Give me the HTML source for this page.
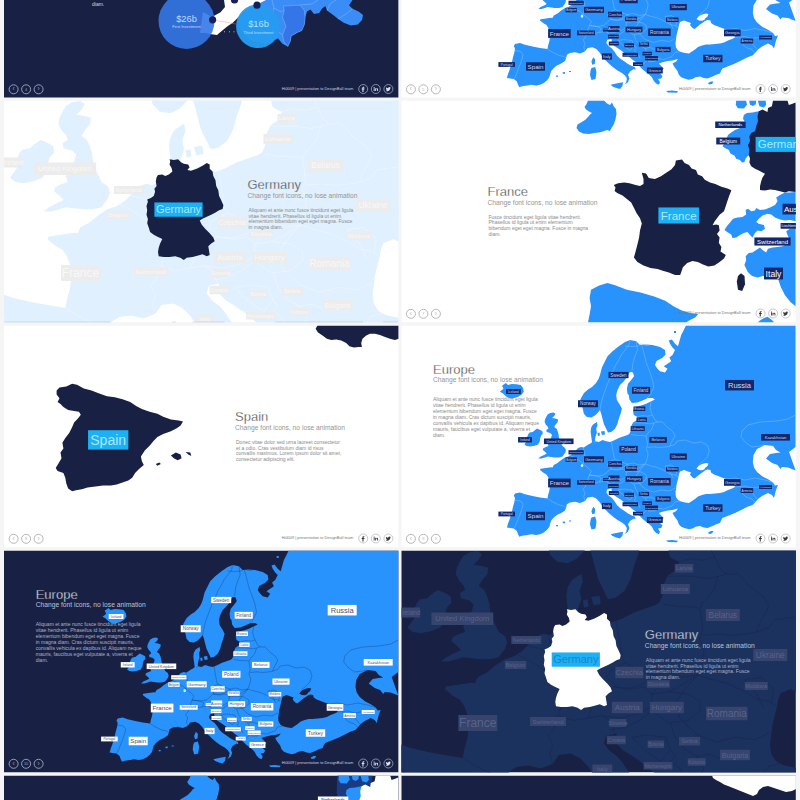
<!DOCTYPE html>
<html lang="en"><head><meta charset="utf-8"><title>Europe maps presentation</title>
<style>
html,body{margin:0;padding:0;background:#fff;}
body{width:800px;height:800px;overflow:hidden;position:relative;}
svg{display:block;position:absolute;left:0;top:0;}
text{font-family:'Liberation Sans', Arial, sans-serif;}
.t{font-size:13px;font-weight:300;}
.s{font-size:6.7px;}
.p{font-size:5.02px;}
.f{font-size:3.3px;}
</style></head><body>
<svg width="800" height="800" viewBox="0 0 800 800">
<defs>
<clipPath id="c00"><rect x="4.0" y="-124.0" width="394.6" height="221.6"/></clipPath>
<clipPath id="c01"><rect x="401.3" y="-124.0" width="394.6" height="221.6"/></clipPath>
<clipPath id="c10"><rect x="4.0" y="100.5" width="394.6" height="222.0"/></clipPath>
<clipPath id="c11"><rect x="401.3" y="100.5" width="394.6" height="222.0"/></clipPath>
<clipPath id="c20"><rect x="4.0" y="325.5" width="394.6" height="222.0"/></clipPath>
<clipPath id="c21"><rect x="401.3" y="325.5" width="394.6" height="222.0"/></clipPath>
<clipPath id="c30"><rect x="4.0" y="550.5" width="394.6" height="222.0"/></clipPath>
<clipPath id="c31"><rect x="401.3" y="550.5" width="394.6" height="222.0"/></clipPath>
<clipPath id="c40"><rect x="4.0" y="775.5" width="394.6" height="222.0"/></clipPath>
<clipPath id="c41"><rect x="401.3" y="775.5" width="394.6" height="222.0"/></clipPath>
<path id="eu" fill-rule="evenodd" d="M586.9,416.9 L583.8,413.8 L582.5,407.5 L580.5,403.0 L580.5,399.0 L584.0,393.0 L588.0,389.5 L592.0,387.0 L596.0,383.0 L598.5,379.0 L600.0,375.0 L601.9,367.5 L605.0,361.2 L607.5,356.2 L612.5,351.2 L618.8,346.2 L625.0,341.9 L630.0,340.0 L636.2,341.2 L640.0,345.0 L645.0,344.4 L652.5,345.0 L660.0,346.9 L665.0,350.0 L665.6,354.4 L662.5,357.8 L656.5,361.0 L655.0,365.0 L657.5,368.8 L660.0,371.2 L665.0,372.5 L667.5,368.8 L663.8,366.2 L667.5,363.8 L671.2,361.2 L669.4,357.5 L672.5,355.0 L675.0,350.0 L672.5,347.5 L670.0,343.8 L668.8,340.6 L671.9,339.4 L675.0,343.8 L678.0,346.2 L679.4,341.2 L681.2,335.0 L683.8,330.0 L685.6,326.2 L686.2,325.5 L795.6,325.5 L795.6,447.0 L789.0,452.0 L795.6,470.5 L788.0,467.5 L782.0,467.0 L780.5,469.0 L777.5,465.0 L772.0,463.0 L766.0,458.5 L770.0,454.0 L776.0,453.0 L780.5,452.5 L776.0,450.0 L773.0,446.0 L764.8,445.0 L757.0,449.0 L753.5,455.0 L752.8,462.0 L754.0,467.5 L757.0,472.0 L762.5,476.5 L768.5,479.5 L773.0,482.5 L775.0,485.5 L778.0,485.0 L776.0,490.0 L774.0,498.0 L772.0,495.0 L768.0,493.0 L762.0,496.0 L758.0,499.0 L755.0,502.5 L752.5,504.9 L747.5,506.8 L741.2,509.9 L735.0,513.0 L727.5,516.0 L722.5,518.0 L721.2,519.9 L720.0,523.0 L716.2,524.2 L712.5,526.0 L707.5,528.0 L703.8,527.4 L700.0,526.0 L695.6,526.8 L692.5,528.6 L688.8,529.2 L684.4,528.0 L681.2,526.8 L678.8,524.2 L677.5,520.5 L675.6,518.0 L673.8,515.5 L672.5,513.0 L676.2,511.0 L678.0,508.5 L675.0,509.2 L672.5,509.9 L667.5,510.5 L662.5,511.8 L658.8,513.0 L661.2,515.5 L663.8,518.0 L661.2,520.5 L660.0,523.0 L662.5,525.5 L661.2,528.0 L658.0,528.6 L660.0,531.8 L658.8,534.2 L656.2,533.0 L653.8,530.5 L651.9,526.8 L649.4,524.2 L646.2,521.8 L643.8,519.9 L641.2,517.4 L638.8,514.9 L636.2,511.8 L632.5,509.2 L628.8,506.0 L625.0,503.0 L621.2,499.9 L617.5,497.4 L614.4,495.5 L611.9,493.0 L611.5,488.5 L607.3,489.3 L606.3,492.5 L608.5,495.5 L611.9,498.0 L614.4,501.0 L616.9,504.9 L620.0,508.0 L623.8,510.5 L628.0,513.6 L631.9,515.5 L635.0,516.8 L635.6,519.2 L633.8,518.6 L630.0,521.0 L628.0,524.2 L629.4,528.0 L628.0,531.8 L624.4,534.2 L626.2,531.8 L626.9,528.0 L625.0,524.9 L621.9,522.4 L617.5,519.9 L613.0,516.8 L608.8,513.0 L605.0,509.2 L601.9,505.5 L599.4,501.8 L596.2,498.6 L592.5,496.8 L587.5,497.4 L585.0,501.0 L580.0,503.0 L575.0,501.8 L570.0,502.4 L566.9,504.2 L566.2,507.4 L565.0,510.5 L561.2,513.0 L556.9,514.9 L553.8,517.4 L551.2,520.5 L550.0,524.2 L549.4,526.8 L546.9,529.9 L543.8,532.4 L540.0,534.2 L536.2,534.9 L531.2,534.2 L527.5,534.9 L523.8,535.5 L521.2,536.0 L519.4,536.8 L518.0,534.2 L516.9,531.0 L513.8,528.6 L510.0,528.0 L506.9,527.4 L508.0,523.6 L509.4,519.9 L510.6,516.0 L511.9,511.8 L513.0,506.8 L514.4,501.8 L515.0,498.0 L513.8,495.5 L515.0,493.6 L520.0,492.4 L525.0,494.2 L532.5,496.0 L540.0,497.4 L547.5,498.6 L548.0,495.5 L549.4,490.5 L550.0,485.5 L549.4,480.5 L548.0,476.8 L546.2,474.2 L543.8,473.0 L540.0,470.0 L540.5,468.8 L546.0,468.0 L551.0,467.3 L552.5,467.5 L553.8,465.0 L557.5,463.0 L561.2,460.0 L565.0,457.5 L568.8,456.2 L572.5,453.8 L576.2,450.0 L578.0,448.0 L581.2,446.9 L583.8,447.5 L587.5,445.0 L591.2,443.0 L592.0,442.0 L591.2,436.2 L590.6,431.2 L591.2,427.5 L593.0,424.4 L596.9,421.9 L597.5,425.0 L596.2,428.8 L596.9,432.5 L595.6,436.2 L595.0,440.0 L595.6,441.2 L598.8,441.9 L602.5,440.0 L606.2,441.2 L610.0,441.9 L613.8,440.6 L618.8,438.0 L623.8,436.2 L627.5,435.0 L629.4,433.8 L630.6,431.2 L631.2,426.2 L633.0,422.5 L636.9,420.0 L637.5,416.9 L633.8,415.0 L633.0,411.2 L634.4,406.9 L641.2,405.6 L646.2,403.8 L651.2,401.2 L655.0,399.4 L652.5,398.0 L648.0,398.0 L642.5,400.6 L637.5,402.5 L631.9,403.0 L629.4,399.4 L628.8,395.0 L627.5,393.8 L626.9,388.8 L628.0,383.8 L631.2,380.0 L634.0,376.2 L633.0,372.5 L631.2,372.0 L629.4,372.5 L626.9,377.5 L623.8,381.2 L620.0,385.0 L617.5,390.0 L616.2,395.0 L616.9,400.0 L620.0,405.0 L621.9,408.8 L620.6,413.8 L618.8,418.8 L617.5,423.8 L615.0,428.8 L611.2,431.9 L608.0,432.5 L606.2,428.8 L603.8,423.8 L602.5,418.8 L601.2,413.8 L600.0,410.0 L598.0,412.5 L595.0,415.6 L591.2,417.5ZM680.0,471.5 L684.0,470.0 L688.0,471.5 L691.0,472.5 L690.0,474.5 L692.5,477.5 L694.5,478.5 L697.0,476.5 L700.0,474.0 L703.0,472.0 L705.0,470.5 L707.5,469.5 L710.5,470.0 L711.0,472.5 L714.0,474.5 L718.0,476.0 L722.0,477.5 L726.0,479.0 L730.0,480.5 L734.0,484.5 L735.0,487.0 L732.0,488.5 L728.0,490.0 L724.0,492.0 L720.0,493.0 L715.0,493.5 L710.0,494.0 L706.0,494.0 L702.0,495.0 L698.0,496.5 L695.0,499.0 L692.0,501.0 L689.0,503.0 L685.0,502.5 L681.0,501.5 L678.0,500.0 L676.0,497.0 L675.5,493.0 L676.0,489.0 L676.5,485.0 L677.5,481.0 L678.5,477.0 L679.0,474.0ZM696.5,468.5 L699.0,465.5 L702.0,464.0 L706.0,463.0 L708.5,463.5 L707.5,466.0 L705.0,468.0 L704.5,469.3 L702.0,470.3 L699.0,470.0ZM547.6,414.6 L550.2,412.9 L553.7,412.4 L555.5,413.7 L554.2,415.9 L552.0,418.1 L555.5,418.6 L558.1,419.4 L557.7,422.1 L555.5,424.7 L554.2,426.9 L556.4,428.6 L557.7,431.2 L558.6,434.7 L559.0,437.8 L560.5,442.0 L562.5,446.1 L565.1,447.9 L566.0,450.5 L565.1,453.1 L563.4,455.3 L562.5,456.6 L559.0,457.5 L554.6,457.5 L551.1,457.1 L547.6,456.6 L545.0,457.5 L541.5,458.4 L538.4,458.4 L540.6,456.6 L544.1,454.9 L546.7,453.6 L545.0,451.8 L542.8,450.1 L543.2,448.3 L545.9,447.0 L548.5,446.1 L547.6,443.9 L549.5,441.0 L551.1,437.8 L552.0,434.7 L550.2,433.0 L546.7,432.1 L546.3,429.9 L548.5,428.6 L547.6,426.4 L545.9,424.7 L544.6,422.1 L545.0,419.4 L546.3,416.8ZM534.5,430.4 L537.1,428.6 L540.2,429.9 L542.4,431.2 L542.8,433.9 L541.1,435.6 L540.2,438.2 L539.7,441.7 L538.0,444.4 L534.5,445.7 L530.1,446.6 L526.6,446.1 L524.4,444.4 L525.7,442.6 L527.5,440.0 L527.1,436.9 L528.4,433.9 L529.7,432.6 L532.7,432.1ZM499.8,391.8 L503.5,388.8 L502.0,385.8 L505.8,383.0 L508.0,385.0 L511.8,383.9 L516.2,384.2 L520.8,385.0 L523.0,388.0 L523.8,391.4 L521.5,394.8 L517.8,397.0 L512.5,398.5 L508.0,397.8 L505.0,395.5 L502.8,393.2ZM610.6,534.2 L616.2,533.0 L623.0,531.8 L622.5,535.5 L620.0,538.6 L616.2,537.4 L612.5,536.0ZM591.5,517.5 L595.2,516.5 L596.5,521.5 L595.5,528.5 L591.5,529.5 L590.0,524.5 L590.5,520.0ZM593.2,506.8 L595.2,509.0 L594.8,513.6 L592.3,514.2 L591.4,511.0ZM597.5,433.0 L599.5,432.5 L600.0,435.5 L598.0,436.0ZM601.0,431.5 L604.5,431.0 L605.0,434.5 L602.0,435.0ZM708.0,532.5 L711.0,531.0 L713.5,531.0 L712.0,533.6 L709.0,534.0ZM666.0,540.5 L672.0,540.0 L678.0,540.8 L677.0,542.3 L668.0,542.0ZM562.5,521.8 L565.0,521.5 L565.0,523.3 L563.0,523.3ZM569.0,520.5 L571.0,520.5 L571.0,521.6 L569.0,521.6ZM556.0,525.0 L558.0,525.0 L558.0,526.3 L556.0,526.3ZM674.0,331.0 L676.0,331.0 L676.0,333.0 L674.0,333.0Z"/>
<path id="bd" fill="none" stroke-linejoin="round" d="M630.0,340.0 L628.8,345.0 L625.0,350.0 L621.2,355.0 L618.8,360.0 L615.0,366.2 L612.5,372.5 L609.0,380.0 L606.0,388.0 L603.0,396.0 L601.0,404.0 L600.0,410.0M636.2,341.2 L637.5,350.0 L635.0,356.2 L633.0,362.5 L631.9,371.2M641.2,343.8 L643.8,352.5 L646.2,362.5 L650.0,372.5 L652.5,380.0 L653.8,387.5 L650.0,395.0 L647.5,397.5M625.0,346.0 L632.0,346.5 L638.0,346.0 L641.2,343.8 L646.0,345.5 L650.0,345.0M651.2,401.2 L650.0,407.5 L651.2,412.5 L652.5,415.0M637.5,416.9 L642.5,415.6 L647.5,416.2 L652.5,415.0M652.5,415.0 L655.0,420.0 L657.5,421.9M633.0,423.0 L637.5,422.8 L643.8,423.0 L650.0,423.8 L653.8,423.0 L657.5,421.9M657.5,421.9 L662.5,421.9 L667.5,427.5 L672.5,431.2 L675.0,435.0 L673.8,438.0 L671.2,442.5 L670.0,446.2M653.8,423.0 L652.5,427.5 L650.0,431.2 L647.5,433.8 L646.2,436.2M631.0,434.5 L637.0,435.5 L643.0,435.6 L646.2,436.2 L646.9,440.0 L647.5,445.0 L646.2,448.8 L648.0,453.8 L647.5,457.5 L645.3,464.0M647.5,447.5 L653.8,446.9 L660.0,447.5 L666.2,446.9 L670.0,446.2M670.0,446.2 L675.0,444.4 L677.3,441.0 L685.3,440.0 L693.3,443.0 L701.3,442.0 L707.3,445.0 L709.3,451.0 L707.3,457.0 L703.3,461.0 L699.0,464.5M795.6,415.0 L788.0,419.0 L776.0,421.0 L760.0,422.0 L748.0,425.0 L742.0,431.0 L741.0,437.0 L746.0,443.0 L752.0,447.0 L760.0,446.0 L764.0,445.0M726.0,479.0 L735.0,478.0 L745.0,480.0 L755.0,478.0 L765.0,480.0 L773.0,482.5M735.0,487.0 L745.0,486.0 L752.0,488.0 L758.0,487.0 L764.0,489.0M752.0,488.0 L753.0,494.0 L757.0,499.0M740.0,487.0 L742.0,493.0 L746.0,497.0 L752.0,499.0 L755.0,502.5M672.0,506.0 L675.0,502.0 L680.0,501.0M648.0,510.0 L656.0,508.0 L664.0,509.0 L672.0,506.0M645.3,489.0 L653.3,492.0 L661.3,490.0 L669.3,491.0 L675.3,488.0M645.3,464.0 L651.3,466.0 L657.3,467.4 L665.3,471.0 L670.0,474.0 L675.3,475.0 L678.0,477.0M665.0,466.0 L670.0,472.0 L673.0,478.0M665.0,466.0 L672.0,465.0 L677.0,470.0 L676.0,476.0M645.3,464.0 L640.0,470.0 L636.0,476.0 L638.0,482.0 L642.0,486.0 L645.3,489.0M515.0,500.0 L520.6,501.0 L523.0,504.2 L521.9,509.2 L520.0,514.2 L518.0,519.2 L516.2,524.2 L514.4,528.0M547.5,498.6 L552.5,501.8 L558.8,504.9 L563.8,506.0 L566.2,507.4M585.0,501.0 L583.8,496.8 L585.0,493.0 L583.0,489.2 L585.3,487.0 L587.3,481.0 L589.3,475.0M569.3,455.0 L575.3,458.0 L581.3,462.0 L583.3,464.0 L587.3,467.0 L591.3,471.0 L589.3,475.0M587.3,481.0 L593.3,483.0 L599.3,482.0 L601.3,478.0 L597.3,476.0 L589.3,475.0M575.0,452.0 L580.0,453.0 L584.0,455.0 L585.3,457.0M583.0,447.0 L584.0,451.0 L585.3,457.0 L583.3,463.0 L583.3,464.0M611.3,441.0 L612.3,447.0 L613.3,453.0 L614.3,458.0 L615.3,459.0M589.3,475.0 L597.3,476.0 L603.3,475.0 L607.3,472.0 L610.3,469.0M593.8,442.2 L596.0,441.5M615.3,459.0 L621.3,462.0 L627.3,464.0 L633.3,463.0 L639.3,465.0 L645.3,464.0M615.3,459.0 L609.3,462.0 L607.3,465.0 L611.3,468.0 L610.3,469.0 L617.3,469.5 L623.3,467.4 L627.3,464.0M610.3,469.0 L617.3,470.0 L623.3,469.0 L626.3,472.0 L626.3,477.0 L621.3,480.0 L613.3,482.0 L605.3,481.0 L599.3,482.0M626.3,472.0 L633.3,471.0 L641.3,472.0 L646.3,475.0 L646.3,479.0 L641.3,483.0 L633.3,484.0 L626.3,479.0M627.3,464.0 L630.0,468.0 L626.3,472.0M633.3,471.0 L639.0,468.0 L645.3,464.0M605.3,481.0 L609.0,483.0 L611.0,489.0M609.0,487.0 L615.0,486.0 L621.0,483.0 L626.3,479.0M618.0,490.0 L624.0,489.0 L632.0,490.0 L634.0,495.0 L630.0,500.0 L624.0,496.0 L618.0,490.0M634.0,484.0 L636.0,490.0 L640.0,495.0 L645.0,498.0 L648.0,503.0 L646.0,507.0M634.0,495.0 L636.0,498.0 L634.0,500.0 L638.0,503.0 L640.0,508.0M641.0,515.0 L645.0,512.0 L647.0,509.0 L646.0,507.0 L652.0,505.0 L657.0,507.0 L655.0,511.0 L648.0,511.0M645.0,498.0 L650.0,497.0 L655.0,499.0"/>
</defs>
<rect x="0" y="0" width="800" height="800" fill="#f5f5f5"/>
<g clip-path="url(#c01)">
<rect x="401.3" y="-124.0" width="394.6" height="222.0" fill="#fff"/>
<g transform="translate(0.0,-449.5)">
<use href="#eu" fill="#2893fd"/>
<use href="#bd" stroke="#8cc6ff" stroke-width="0.5" stroke-opacity="0.9"/>
<ellipse cx="582" cy="465.6" rx="1.3" ry="1.6" fill="#dfeeff"/>
<rect x="725.00" y="379.95" width="29.00" height="10.50" fill="#10286e"/><text x="739.50" y="387.83" text-anchor="middle" font-size="7.52" fill="#d4d9ec">Russia</text>
<rect x="608.50" y="371.88" width="20.00" height="6.25" fill="#10286e"/><text x="618.50" y="376.58" text-anchor="middle" font-size="4.512" fill="#d4d9ec">Sweden</text>
<rect x="631.95" y="386.85" width="18.10" height="6.90" fill="#10286e"/><text x="641.00" y="391.88" text-anchor="middle" font-size="4.512" fill="#d4d9ec">Finland</text>
<rect x="578.00" y="400.25" width="20.00" height="7.00" fill="#10286e"/><text x="588.00" y="405.39" text-anchor="middle" font-size="4.699999999999999" fill="#d4d9ec">Norway</text>
<rect x="506.02" y="389.00" width="14.75" height="5.00" fill="#10286e"/><text x="513.40" y="392.65" text-anchor="middle" font-size="3.29" fill="#d4d9ec">Iceland</text>
<rect x="633.52" y="406.50" width="11.75" height="4.50" fill="#10286e"/><text x="639.40" y="409.77" text-anchor="middle" font-size="2.9139999999999997" fill="#d4d9ec">Estonia</text>
<rect x="636.50" y="417.50" width="10.40" height="4.40" fill="#10286e"/><text x="641.70" y="420.72" text-anchor="middle" font-size="2.9139999999999997" fill="#d4d9ec">Latvia</text>
<rect x="630.65" y="426.23" width="14.10" height="4.75" fill="#10286e"/><text x="637.70" y="429.62" text-anchor="middle" font-size="2.9139999999999997" fill="#d4d9ec">Lithuania</text>
<rect x="649.35" y="436.90" width="17.50" height="6.00" fill="#10286e"/><text x="658.10" y="441.28" text-anchor="middle" font-size="3.948" fill="#d4d9ec">Belarus</text>
<rect x="619.45" y="445.85" width="18.30" height="6.90" fill="#10286e"/><text x="628.60" y="450.94" text-anchor="middle" font-size="4.699999999999999" fill="#d4d9ec">Poland</text>
<rect x="669.75" y="453.48" width="17.10" height="6.25" fill="#10286e"/><text x="678.30" y="457.98" text-anchor="middle" font-size="3.948" fill="#d4d9ec">Ukraine</text>
<rect x="761.00" y="434.00" width="29.00" height="6.60" fill="#10286e"/><text x="775.50" y="438.75" text-anchor="middle" font-size="4.136" fill="#d4d9ec">Kazakhstan</text>
<rect x="518.05" y="437.10" width="13.90" height="5.40" fill="#10286e"/><text x="525.00" y="440.89" text-anchor="middle" font-size="3.102" fill="#d4d9ec">Ireland</text>
<rect x="543.95" y="438.50" width="29.60" height="5.60" fill="#10286e"/><text x="558.75" y="442.52" text-anchor="middle" font-size="3.4779999999999998" fill="#d4d9ec">United Kingdom</text>
<rect x="568.48" y="450.20" width="15.25" height="4.20" fill="#10286e"/><text x="576.10" y="453.16" text-anchor="middle" font-size="2.444" fill="#d4d9ec">Netherlands</text>
<rect x="565.60" y="457.35" width="11.30" height="4.50" fill="#10286e"/><text x="571.25" y="460.55" text-anchor="middle" font-size="2.726" fill="#d4d9ec">Belgium</text>
<rect x="584.00" y="456.25" width="20.00" height="6.10" fill="#10286e"/><text x="594.00" y="460.81" text-anchor="middle" font-size="4.324" fill="#d4d9ec">Germany</text>
<rect x="608.00" y="461.20" width="14.00" height="5.60" fill="#10286e"/><text x="615.00" y="465.25" text-anchor="middle" font-size="3.5719999999999996" fill="#d4d9ec">Czechia</text>
<rect x="625.05" y="466.20" width="11.90" height="4.60" fill="#10286e"/><text x="631.00" y="469.49" text-anchor="middle" font-size="2.82" fill="#d4d9ec">Slovakia</text>
<rect x="666.00" y="467.00" width="12.50" height="4.50" fill="#10286e"/><text x="672.25" y="470.24" text-anchor="middle" font-size="2.82" fill="#d4d9ec">Moldova</text>
<rect x="548.10" y="478.60" width="22.60" height="8.80" fill="#10286e"/><text x="559.40" y="485.17" text-anchor="middle" font-size="6.204" fill="#d4d9ec">France</text>
<rect x="577.00" y="480.05" width="18.00" height="4.70" fill="#10286e"/><text x="586.00" y="483.42" text-anchor="middle" font-size="2.9139999999999997" fill="#d4d9ec">Switzerland</text>
<rect x="603.00" y="478.10" width="6.00" height="3.00" fill="#10286e"/><text x="606.00" y="479.93" text-anchor="middle" font-size="0.94" fill="#d4d9ec">Liechtenstein</text>
<rect x="608.50" y="475.50" width="11.00" height="6.00" fill="#10286e"/><text x="614.00" y="479.78" text-anchor="middle" font-size="3.666" fill="#d4d9ec">Austria</text>
<rect x="625.55" y="476.20" width="16.90" height="5.60" fill="#10286e"/><text x="634.00" y="480.32" text-anchor="middle" font-size="3.76" fill="#d4d9ec">Hungary</text>
<rect x="648.15" y="478.00" width="22.50" height="7.50" fill="#10286e"/><text x="659.40" y="483.39" text-anchor="middle" font-size="4.699999999999999" fill="#d4d9ec">Romania</text>
<rect x="608.10" y="484.00" width="10.60" height="4.00" fill="#10286e"/><text x="613.40" y="486.86" text-anchor="middle" font-size="2.444" fill="#d4d9ec">Slovenia</text>
<rect x="608.75" y="491.00" width="10.00" height="4.00" fill="#10286e"/><text x="613.75" y="493.89" text-anchor="middle" font-size="2.538" fill="#d4d9ec">Croatia</text>
<rect x="624.40" y="492.75" width="9.60" height="4.10" fill="#10286e"/><text x="629.20" y="495.69" text-anchor="middle" font-size="2.538" fill="#d4d9ec">Bosnia</text>
<rect x="638.77" y="491.95" width="10.25" height="4.10" fill="#10286e"/><text x="643.90" y="494.92" text-anchor="middle" font-size="2.6319999999999997" fill="#d4d9ec">Serbia</text>
<rect x="655.60" y="496.38" width="15.00" height="5.25" fill="#10286e"/><text x="663.10" y="500.18" text-anchor="middle" font-size="3.384" fill="#d4d9ec">Bulgaria</text>
<rect x="601.90" y="502.90" width="10.00" height="6.20" fill="#10286e"/><text x="606.90" y="507.45" text-anchor="middle" font-size="4.136" fill="#d4d9ec">Italy</text>
<rect x="622.50" y="502.25" width="15.60" height="4.00" fill="#10286e"/><text x="630.30" y="505.14" text-anchor="middle" font-size="2.538" fill="#d4d9ec">Montenegro</text>
<rect x="642.50" y="501.23" width="9.40" height="3.75" fill="#10286e"/><text x="647.20" y="503.92" text-anchor="middle" font-size="2.3499999999999996" fill="#d4d9ec">Kosovo</text>
<rect x="645.00" y="505.50" width="13.00" height="4.40" fill="#10286e"/><text x="651.50" y="508.59" text-anchor="middle" font-size="2.538" fill="#d4d9ec">Macedonia</text>
<rect x="633.00" y="511.73" width="10.00" height="3.75" fill="#10286e"/><text x="638.00" y="514.46" text-anchor="middle" font-size="2.444" fill="#d4d9ec">Albania</text>
<rect x="646.85" y="517.00" width="15.90" height="6.00" fill="#10286e"/><text x="654.80" y="521.38" text-anchor="middle" font-size="3.948" fill="#d4d9ec">Greece</text>
<rect x="703.10" y="504.25" width="19.40" height="7.50" fill="#10286e"/><text x="712.80" y="509.78" text-anchor="middle" font-size="5.076" fill="#d4d9ec">Turkey</text>
<rect x="724.00" y="479.02" width="16.60" height="6.75" fill="#10286e"/><text x="732.30" y="483.85" text-anchor="middle" font-size="4.136" fill="#d4d9ec">Georgia</text>
<rect x="740.65" y="488.00" width="12.50" height="5.00" fill="#10286e"/><text x="746.90" y="491.52" text-anchor="middle" font-size="2.9139999999999997" fill="#d4d9ec">Armenia</text>
<rect x="759.00" y="485.00" width="13.00" height="4.00" fill="#10286e"/><text x="765.50" y="487.86" text-anchor="middle" font-size="2.444" fill="#d4d9ec">Azerbaijan</text>
<rect x="498.40" y="511.60" width="16.60" height="4.80" fill="#10286e"/><text x="506.70" y="515.12" text-anchor="middle" font-size="3.1959999999999997" fill="#d4d9ec">Portugal</text>
<rect x="526.00" y="511.75" width="19.00" height="8.50" fill="#10286e"/><text x="535.50" y="518.17" text-anchor="middle" font-size="6.204" fill="#d4d9ec">Spain</text>
<text x="433" y="373.6" class="t" fill="#3c3c3c" stroke="#fff" stroke-width="0.3" paint-order="fill stroke">Europe</text>
<text x="433" y="382.40000000000003" class="s" fill="#959595">Change font icons, no lose animation</text>
<text x="433.0" y="401.00" class="p" fill="#8a8a8a">Aliquam et ante nunc fusce tincidunt eget ligula</text>
<text x="433.0" y="407.00" class="p" fill="#8a8a8a">vitae hendrerit. Phasellus id ligula ut enim</text>
<text x="433.0" y="413.00" class="p" fill="#8a8a8a">elementum bibendum eget eget magna. Fusce</text>
<text x="433.0" y="419.00" class="p" fill="#8a8a8a">in magna diam. Cras dictum suscipit mauris,</text>
<text x="433.0" y="425.00" class="p" fill="#8a8a8a">convallis vehicula ex dapibus id. Aliquam neque</text>
<text x="433.0" y="431.00" class="p" fill="#8a8a8a">mauris, faucibus eget vulputate a, viverra et</text>
<text x="433.0" y="437.00" class="p" fill="#8a8a8a">diam.</text>
</g>
<circle cx="410.9" cy="89.3" r="4.5" fill="none" stroke="#b2b2b2" stroke-width="0.95"/><text x="410.9" y="91.2" text-anchor="middle" font-size="6.4" fill="#b2b2b2">‹</text><circle cx="423.4" cy="89.3" r="4.5" fill="none" stroke="#b2b2b2" stroke-width="0.95"/><text x="423.4" y="90.7" text-anchor="middle" font-size="3.9" fill="#b2b2b2">5</text><circle cx="435.9" cy="89.3" r="4.5" fill="none" stroke="#b2b2b2" stroke-width="0.95"/><text x="435.9" y="91.2" text-anchor="middle" font-size="6.4" fill="#b2b2b2">›</text><circle cx="760.5" cy="89.0" r="4.5" fill="none" stroke="#c4c0c8" stroke-width="0.9"/><path d="M761.40,86.70h-0.8q-0.9,0-0.9,1v0.8h-0.7v1h0.7v2.4h1.1v-2.4h0.9l0.15,-1h-1.05v-0.6q0,-0.35 0.4,-0.35h0.7z" fill="#3a3a3a"/><circle cx="773.1" cy="89.0" r="4.5" fill="none" stroke="#c4c0c8" stroke-width="0.9"/><path d="M771.00,88.30h0.9v2.8h-0.9zM771.45,86.90a0.55,0.55 0 1 0 0.01,0zM772.50,88.30h0.85v0.4q0.35,-0.5 1,-0.5q1.05,0 1.05,1.3v1.6h-0.9v-1.45q0,-0.65 -0.5,-0.65q-0.6,0 -0.6,0.75v1.35h-0.9z" fill="#3a3a3a"/><circle cx="785.7" cy="89.0" r="4.5" fill="none" stroke="#c4c0c8" stroke-width="0.9"/><path d="M788.10,87.50q-0.3,0.15 -0.6,0.18q0.35,-0.2 0.47,-0.57q-0.32,0.18 -0.67,0.25a1.05,1.05 0 0 0 -1.8,0.96q-1.3,-0.07 -2.15,-1.1a1.05,1.05 0 0 0 0.32,1.4q-0.25,0 -0.47,-0.13q0,0.77 0.84,1.04q-0.23,0.06 -0.47,0.02q0.2,0.6 0.98,0.73q-0.7,0.52 -1.55,0.43q2.1,1.15 3.7,-0.35q1,-1 0.97,-2.3q0.3,-0.22 0.43,-0.56z" fill="#3a3a3a"/><text x="750.5" y="89.8" text-anchor="end" class="f" fill="#777" textLength="71.5" lengthAdjust="spacingAndGlyphs">Hi0009 | presentation to DesignBall team</text>
</g>
<g clip-path="url(#c21)">
<rect x="401.3" y="325.5" width="394.6" height="222.0" fill="#fff"/>
<g transform="translate(0.0,0.0)">
<use href="#eu" fill="#2893fd"/>
<use href="#bd" stroke="#8cc6ff" stroke-width="0.5" stroke-opacity="0.9"/>
<ellipse cx="582" cy="465.6" rx="1.3" ry="1.6" fill="#dfeeff"/>
<rect x="725.00" y="379.95" width="29.00" height="10.50" fill="#10286e"/><text x="739.50" y="387.83" text-anchor="middle" font-size="7.52" fill="#d4d9ec">Russia</text>
<rect x="608.50" y="371.88" width="20.00" height="6.25" fill="#10286e"/><text x="618.50" y="376.58" text-anchor="middle" font-size="4.512" fill="#d4d9ec">Sweden</text>
<rect x="631.95" y="386.85" width="18.10" height="6.90" fill="#10286e"/><text x="641.00" y="391.88" text-anchor="middle" font-size="4.512" fill="#d4d9ec">Finland</text>
<rect x="578.00" y="400.25" width="20.00" height="7.00" fill="#10286e"/><text x="588.00" y="405.39" text-anchor="middle" font-size="4.699999999999999" fill="#d4d9ec">Norway</text>
<rect x="506.02" y="389.00" width="14.75" height="5.00" fill="#10286e"/><text x="513.40" y="392.65" text-anchor="middle" font-size="3.29" fill="#d4d9ec">Iceland</text>
<rect x="633.52" y="406.50" width="11.75" height="4.50" fill="#10286e"/><text x="639.40" y="409.77" text-anchor="middle" font-size="2.9139999999999997" fill="#d4d9ec">Estonia</text>
<rect x="636.50" y="417.50" width="10.40" height="4.40" fill="#10286e"/><text x="641.70" y="420.72" text-anchor="middle" font-size="2.9139999999999997" fill="#d4d9ec">Latvia</text>
<rect x="630.65" y="426.23" width="14.10" height="4.75" fill="#10286e"/><text x="637.70" y="429.62" text-anchor="middle" font-size="2.9139999999999997" fill="#d4d9ec">Lithuania</text>
<rect x="649.35" y="436.90" width="17.50" height="6.00" fill="#10286e"/><text x="658.10" y="441.28" text-anchor="middle" font-size="3.948" fill="#d4d9ec">Belarus</text>
<rect x="619.45" y="445.85" width="18.30" height="6.90" fill="#10286e"/><text x="628.60" y="450.94" text-anchor="middle" font-size="4.699999999999999" fill="#d4d9ec">Poland</text>
<rect x="669.75" y="453.48" width="17.10" height="6.25" fill="#10286e"/><text x="678.30" y="457.98" text-anchor="middle" font-size="3.948" fill="#d4d9ec">Ukraine</text>
<rect x="761.00" y="434.00" width="29.00" height="6.60" fill="#10286e"/><text x="775.50" y="438.75" text-anchor="middle" font-size="4.136" fill="#d4d9ec">Kazakhstan</text>
<rect x="518.05" y="437.10" width="13.90" height="5.40" fill="#10286e"/><text x="525.00" y="440.89" text-anchor="middle" font-size="3.102" fill="#d4d9ec">Ireland</text>
<rect x="543.95" y="438.50" width="29.60" height="5.60" fill="#10286e"/><text x="558.75" y="442.52" text-anchor="middle" font-size="3.4779999999999998" fill="#d4d9ec">United Kingdom</text>
<rect x="568.48" y="450.20" width="15.25" height="4.20" fill="#10286e"/><text x="576.10" y="453.16" text-anchor="middle" font-size="2.444" fill="#d4d9ec">Netherlands</text>
<rect x="565.60" y="457.35" width="11.30" height="4.50" fill="#10286e"/><text x="571.25" y="460.55" text-anchor="middle" font-size="2.726" fill="#d4d9ec">Belgium</text>
<rect x="584.00" y="456.25" width="20.00" height="6.10" fill="#10286e"/><text x="594.00" y="460.81" text-anchor="middle" font-size="4.324" fill="#d4d9ec">Germany</text>
<rect x="608.00" y="461.20" width="14.00" height="5.60" fill="#10286e"/><text x="615.00" y="465.25" text-anchor="middle" font-size="3.5719999999999996" fill="#d4d9ec">Czechia</text>
<rect x="625.05" y="466.20" width="11.90" height="4.60" fill="#10286e"/><text x="631.00" y="469.49" text-anchor="middle" font-size="2.82" fill="#d4d9ec">Slovakia</text>
<rect x="666.00" y="467.00" width="12.50" height="4.50" fill="#10286e"/><text x="672.25" y="470.24" text-anchor="middle" font-size="2.82" fill="#d4d9ec">Moldova</text>
<rect x="548.10" y="478.60" width="22.60" height="8.80" fill="#10286e"/><text x="559.40" y="485.17" text-anchor="middle" font-size="6.204" fill="#d4d9ec">France</text>
<rect x="577.00" y="480.05" width="18.00" height="4.70" fill="#10286e"/><text x="586.00" y="483.42" text-anchor="middle" font-size="2.9139999999999997" fill="#d4d9ec">Switzerland</text>
<rect x="603.00" y="478.10" width="6.00" height="3.00" fill="#10286e"/><text x="606.00" y="479.93" text-anchor="middle" font-size="0.94" fill="#d4d9ec">Liechtenstein</text>
<rect x="608.50" y="475.50" width="11.00" height="6.00" fill="#10286e"/><text x="614.00" y="479.78" text-anchor="middle" font-size="3.666" fill="#d4d9ec">Austria</text>
<rect x="625.55" y="476.20" width="16.90" height="5.60" fill="#10286e"/><text x="634.00" y="480.32" text-anchor="middle" font-size="3.76" fill="#d4d9ec">Hungary</text>
<rect x="648.15" y="478.00" width="22.50" height="7.50" fill="#10286e"/><text x="659.40" y="483.39" text-anchor="middle" font-size="4.699999999999999" fill="#d4d9ec">Romania</text>
<rect x="608.10" y="484.00" width="10.60" height="4.00" fill="#10286e"/><text x="613.40" y="486.86" text-anchor="middle" font-size="2.444" fill="#d4d9ec">Slovenia</text>
<rect x="608.75" y="491.00" width="10.00" height="4.00" fill="#10286e"/><text x="613.75" y="493.89" text-anchor="middle" font-size="2.538" fill="#d4d9ec">Croatia</text>
<rect x="624.40" y="492.75" width="9.60" height="4.10" fill="#10286e"/><text x="629.20" y="495.69" text-anchor="middle" font-size="2.538" fill="#d4d9ec">Bosnia</text>
<rect x="638.77" y="491.95" width="10.25" height="4.10" fill="#10286e"/><text x="643.90" y="494.92" text-anchor="middle" font-size="2.6319999999999997" fill="#d4d9ec">Serbia</text>
<rect x="655.60" y="496.38" width="15.00" height="5.25" fill="#10286e"/><text x="663.10" y="500.18" text-anchor="middle" font-size="3.384" fill="#d4d9ec">Bulgaria</text>
<rect x="601.90" y="502.90" width="10.00" height="6.20" fill="#10286e"/><text x="606.90" y="507.45" text-anchor="middle" font-size="4.136" fill="#d4d9ec">Italy</text>
<rect x="622.50" y="502.25" width="15.60" height="4.00" fill="#10286e"/><text x="630.30" y="505.14" text-anchor="middle" font-size="2.538" fill="#d4d9ec">Montenegro</text>
<rect x="642.50" y="501.23" width="9.40" height="3.75" fill="#10286e"/><text x="647.20" y="503.92" text-anchor="middle" font-size="2.3499999999999996" fill="#d4d9ec">Kosovo</text>
<rect x="645.00" y="505.50" width="13.00" height="4.40" fill="#10286e"/><text x="651.50" y="508.59" text-anchor="middle" font-size="2.538" fill="#d4d9ec">Macedonia</text>
<rect x="633.00" y="511.73" width="10.00" height="3.75" fill="#10286e"/><text x="638.00" y="514.46" text-anchor="middle" font-size="2.444" fill="#d4d9ec">Albania</text>
<rect x="646.85" y="517.00" width="15.90" height="6.00" fill="#10286e"/><text x="654.80" y="521.38" text-anchor="middle" font-size="3.948" fill="#d4d9ec">Greece</text>
<rect x="703.10" y="504.25" width="19.40" height="7.50" fill="#10286e"/><text x="712.80" y="509.78" text-anchor="middle" font-size="5.076" fill="#d4d9ec">Turkey</text>
<rect x="724.00" y="479.02" width="16.60" height="6.75" fill="#10286e"/><text x="732.30" y="483.85" text-anchor="middle" font-size="4.136" fill="#d4d9ec">Georgia</text>
<rect x="740.65" y="488.00" width="12.50" height="5.00" fill="#10286e"/><text x="746.90" y="491.52" text-anchor="middle" font-size="2.9139999999999997" fill="#d4d9ec">Armenia</text>
<rect x="759.00" y="485.00" width="13.00" height="4.00" fill="#10286e"/><text x="765.50" y="487.86" text-anchor="middle" font-size="2.444" fill="#d4d9ec">Azerbaijan</text>
<rect x="498.40" y="511.60" width="16.60" height="4.80" fill="#10286e"/><text x="506.70" y="515.12" text-anchor="middle" font-size="3.1959999999999997" fill="#d4d9ec">Portugal</text>
<rect x="526.00" y="511.75" width="19.00" height="8.50" fill="#10286e"/><text x="535.50" y="518.17" text-anchor="middle" font-size="6.204" fill="#d4d9ec">Spain</text>
<text x="433" y="373.6" class="t" fill="#3c3c3c" stroke="#fff" stroke-width="0.3" paint-order="fill stroke">Europe</text>
<text x="433" y="382.40000000000003" class="s" fill="#959595">Change font icons, no lose animation</text>
<text x="433.0" y="401.00" class="p" fill="#8a8a8a">Aliquam et ante nunc fusce tincidunt eget ligula</text>
<text x="433.0" y="407.00" class="p" fill="#8a8a8a">vitae hendrerit. Phasellus id ligula ut enim</text>
<text x="433.0" y="413.00" class="p" fill="#8a8a8a">elementum bibendum eget eget magna. Fusce</text>
<text x="433.0" y="419.00" class="p" fill="#8a8a8a">in magna diam. Cras dictum suscipit mauris,</text>
<text x="433.0" y="425.00" class="p" fill="#8a8a8a">convallis vehicula ex dapibus id. Aliquam neque</text>
<text x="433.0" y="431.00" class="p" fill="#8a8a8a">mauris, faucibus eget vulputate a, viverra et</text>
<text x="433.0" y="437.00" class="p" fill="#8a8a8a">diam.</text>
</g>
<circle cx="410.9" cy="538.8" r="4.5" fill="none" stroke="#b2b2b2" stroke-width="0.95"/><text x="410.9" y="540.7" text-anchor="middle" font-size="6.4" fill="#b2b2b2">‹</text><circle cx="423.4" cy="538.8" r="4.5" fill="none" stroke="#b2b2b2" stroke-width="0.95"/><text x="423.4" y="540.2" text-anchor="middle" font-size="3.9" fill="#b2b2b2">9</text><circle cx="435.9" cy="538.8" r="4.5" fill="none" stroke="#b2b2b2" stroke-width="0.95"/><text x="435.9" y="540.7" text-anchor="middle" font-size="6.4" fill="#b2b2b2">›</text><circle cx="760.5" cy="538.5" r="4.5" fill="none" stroke="#c4c0c8" stroke-width="0.9"/><path d="M761.40,536.20h-0.8q-0.9,0-0.9,1v0.8h-0.7v1h0.7v2.4h1.1v-2.4h0.9l0.15,-1h-1.05v-0.6q0,-0.35 0.4,-0.35h0.7z" fill="#3a3a3a"/><circle cx="773.1" cy="538.5" r="4.5" fill="none" stroke="#c4c0c8" stroke-width="0.9"/><path d="M771.00,537.80h0.9v2.8h-0.9zM771.45,536.40a0.55,0.55 0 1 0 0.01,0zM772.50,537.80h0.85v0.4q0.35,-0.5 1,-0.5q1.05,0 1.05,1.3v1.6h-0.9v-1.45q0,-0.65 -0.5,-0.65q-0.6,0 -0.6,0.75v1.35h-0.9z" fill="#3a3a3a"/><circle cx="785.7" cy="538.5" r="4.5" fill="none" stroke="#c4c0c8" stroke-width="0.9"/><path d="M788.10,537.00q-0.3,0.15 -0.6,0.18q0.35,-0.2 0.47,-0.57q-0.32,0.18 -0.67,0.25a1.05,1.05 0 0 0 -1.8,0.96q-1.3,-0.07 -2.15,-1.1a1.05,1.05 0 0 0 0.32,1.4q-0.25,0 -0.47,-0.13q0,0.77 0.84,1.04q-0.23,0.06 -0.47,0.02q0.2,0.6 0.98,0.73q-0.7,0.52 -1.55,0.43q2.1,1.15 3.7,-0.35q1,-1 0.97,-2.3q0.3,-0.22 0.43,-0.56z" fill="#3a3a3a"/><text x="750.5" y="539.3" text-anchor="end" class="f" fill="#777" textLength="71.5" lengthAdjust="spacingAndGlyphs">Hi0009 | presentation to DesignBall team</text>
</g>
<g clip-path="url(#c30)">
<rect x="4.0" y="550.5" width="394.6" height="222.0" fill="#182144"/>
<g transform="translate(-397.3,225.0)">
<use href="#eu" fill="#2893fd"/>
<use href="#bd" stroke="#182144" stroke-width="0.4" stroke-opacity="0.7"/>
<ellipse cx="582" cy="465.6" rx="1.3" ry="1.6" fill="#dfeeff"/>
<rect x="725.00" y="379.95" width="29.00" height="10.50" fill="#fff"/><text x="739.50" y="387.83" text-anchor="middle" font-size="7.52" fill="#4a5272">Russia</text>
<rect x="608.50" y="371.88" width="20.00" height="6.25" fill="#fff"/><text x="618.50" y="376.58" text-anchor="middle" font-size="4.512" fill="#4a5272">Sweden</text>
<rect x="631.95" y="386.85" width="18.10" height="6.90" fill="#fff"/><text x="641.00" y="391.88" text-anchor="middle" font-size="4.512" fill="#4a5272">Finland</text>
<rect x="578.00" y="400.25" width="20.00" height="7.00" fill="#fff"/><text x="588.00" y="405.39" text-anchor="middle" font-size="4.699999999999999" fill="#4a5272">Norway</text>
<rect x="506.02" y="389.00" width="14.75" height="5.00" fill="#fff"/><text x="513.40" y="392.65" text-anchor="middle" font-size="3.29" fill="#4a5272">Iceland</text>
<rect x="633.52" y="406.50" width="11.75" height="4.50" fill="#fff"/><text x="639.40" y="409.77" text-anchor="middle" font-size="2.9139999999999997" fill="#4a5272">Estonia</text>
<rect x="636.50" y="417.50" width="10.40" height="4.40" fill="#fff"/><text x="641.70" y="420.72" text-anchor="middle" font-size="2.9139999999999997" fill="#4a5272">Latvia</text>
<rect x="630.65" y="426.23" width="14.10" height="4.75" fill="#fff"/><text x="637.70" y="429.62" text-anchor="middle" font-size="2.9139999999999997" fill="#4a5272">Lithuania</text>
<rect x="649.35" y="436.90" width="17.50" height="6.00" fill="#fff"/><text x="658.10" y="441.28" text-anchor="middle" font-size="3.948" fill="#4a5272">Belarus</text>
<rect x="619.45" y="445.85" width="18.30" height="6.90" fill="#fff"/><text x="628.60" y="450.94" text-anchor="middle" font-size="4.699999999999999" fill="#4a5272">Poland</text>
<rect x="669.75" y="453.48" width="17.10" height="6.25" fill="#fff"/><text x="678.30" y="457.98" text-anchor="middle" font-size="3.948" fill="#4a5272">Ukraine</text>
<rect x="761.00" y="434.00" width="29.00" height="6.60" fill="#fff"/><text x="775.50" y="438.75" text-anchor="middle" font-size="4.136" fill="#4a5272">Kazakhstan</text>
<rect x="518.05" y="437.10" width="13.90" height="5.40" fill="#fff"/><text x="525.00" y="440.89" text-anchor="middle" font-size="3.102" fill="#4a5272">Ireland</text>
<rect x="543.95" y="438.50" width="29.60" height="5.60" fill="#fff"/><text x="558.75" y="442.52" text-anchor="middle" font-size="3.4779999999999998" fill="#4a5272">United Kingdom</text>
<rect x="568.48" y="450.20" width="15.25" height="4.20" fill="#fff"/><text x="576.10" y="453.16" text-anchor="middle" font-size="2.444" fill="#4a5272">Netherlands</text>
<rect x="565.60" y="457.35" width="11.30" height="4.50" fill="#fff"/><text x="571.25" y="460.55" text-anchor="middle" font-size="2.726" fill="#4a5272">Belgium</text>
<rect x="584.00" y="456.25" width="20.00" height="6.10" fill="#fff"/><text x="594.00" y="460.81" text-anchor="middle" font-size="4.324" fill="#4a5272">Germany</text>
<rect x="608.00" y="461.20" width="14.00" height="5.60" fill="#fff"/><text x="615.00" y="465.25" text-anchor="middle" font-size="3.5719999999999996" fill="#4a5272">Czechia</text>
<rect x="625.05" y="466.20" width="11.90" height="4.60" fill="#fff"/><text x="631.00" y="469.49" text-anchor="middle" font-size="2.82" fill="#4a5272">Slovakia</text>
<rect x="666.00" y="467.00" width="12.50" height="4.50" fill="#fff"/><text x="672.25" y="470.24" text-anchor="middle" font-size="2.82" fill="#4a5272">Moldova</text>
<rect x="548.10" y="478.60" width="22.60" height="8.80" fill="#fff"/><text x="559.40" y="485.17" text-anchor="middle" font-size="6.204" fill="#4a5272">France</text>
<rect x="577.00" y="480.05" width="18.00" height="4.70" fill="#fff"/><text x="586.00" y="483.42" text-anchor="middle" font-size="2.9139999999999997" fill="#4a5272">Switzerland</text>
<rect x="603.00" y="478.10" width="6.00" height="3.00" fill="#fff"/><text x="606.00" y="479.93" text-anchor="middle" font-size="0.94" fill="#4a5272">Liechtenstein</text>
<rect x="608.50" y="475.50" width="11.00" height="6.00" fill="#fff"/><text x="614.00" y="479.78" text-anchor="middle" font-size="3.666" fill="#4a5272">Austria</text>
<rect x="625.55" y="476.20" width="16.90" height="5.60" fill="#fff"/><text x="634.00" y="480.32" text-anchor="middle" font-size="3.76" fill="#4a5272">Hungary</text>
<rect x="648.15" y="478.00" width="22.50" height="7.50" fill="#fff"/><text x="659.40" y="483.39" text-anchor="middle" font-size="4.699999999999999" fill="#4a5272">Romania</text>
<rect x="608.10" y="484.00" width="10.60" height="4.00" fill="#fff"/><text x="613.40" y="486.86" text-anchor="middle" font-size="2.444" fill="#4a5272">Slovenia</text>
<rect x="608.75" y="491.00" width="10.00" height="4.00" fill="#fff"/><text x="613.75" y="493.89" text-anchor="middle" font-size="2.538" fill="#4a5272">Croatia</text>
<rect x="624.40" y="492.75" width="9.60" height="4.10" fill="#fff"/><text x="629.20" y="495.69" text-anchor="middle" font-size="2.538" fill="#4a5272">Bosnia</text>
<rect x="638.77" y="491.95" width="10.25" height="4.10" fill="#fff"/><text x="643.90" y="494.92" text-anchor="middle" font-size="2.6319999999999997" fill="#4a5272">Serbia</text>
<rect x="655.60" y="496.38" width="15.00" height="5.25" fill="#fff"/><text x="663.10" y="500.18" text-anchor="middle" font-size="3.384" fill="#4a5272">Bulgaria</text>
<rect x="601.90" y="502.90" width="10.00" height="6.20" fill="#fff"/><text x="606.90" y="507.45" text-anchor="middle" font-size="4.136" fill="#4a5272">Italy</text>
<rect x="622.50" y="502.25" width="15.60" height="4.00" fill="#fff"/><text x="630.30" y="505.14" text-anchor="middle" font-size="2.538" fill="#4a5272">Montenegro</text>
<rect x="642.50" y="501.23" width="9.40" height="3.75" fill="#fff"/><text x="647.20" y="503.92" text-anchor="middle" font-size="2.3499999999999996" fill="#4a5272">Kosovo</text>
<rect x="645.00" y="505.50" width="13.00" height="4.40" fill="#fff"/><text x="651.50" y="508.59" text-anchor="middle" font-size="2.538" fill="#4a5272">Macedonia</text>
<rect x="633.00" y="511.73" width="10.00" height="3.75" fill="#fff"/><text x="638.00" y="514.46" text-anchor="middle" font-size="2.444" fill="#4a5272">Albania</text>
<rect x="646.85" y="517.00" width="15.90" height="6.00" fill="#fff"/><text x="654.80" y="521.38" text-anchor="middle" font-size="3.948" fill="#4a5272">Greece</text>
<rect x="703.10" y="504.25" width="19.40" height="7.50" fill="#fff"/><text x="712.80" y="509.78" text-anchor="middle" font-size="5.076" fill="#4a5272">Turkey</text>
<rect x="724.00" y="479.02" width="16.60" height="6.75" fill="#fff"/><text x="732.30" y="483.85" text-anchor="middle" font-size="4.136" fill="#4a5272">Georgia</text>
<rect x="740.65" y="488.00" width="12.50" height="5.00" fill="#fff"/><text x="746.90" y="491.52" text-anchor="middle" font-size="2.9139999999999997" fill="#4a5272">Armenia</text>
<rect x="759.00" y="485.00" width="13.00" height="4.00" fill="#fff"/><text x="765.50" y="487.86" text-anchor="middle" font-size="2.444" fill="#4a5272">Azerbaijan</text>
<rect x="498.40" y="511.60" width="16.60" height="4.80" fill="#fff"/><text x="506.70" y="515.12" text-anchor="middle" font-size="3.1959999999999997" fill="#4a5272">Portugal</text>
<rect x="526.00" y="511.75" width="19.00" height="8.50" fill="#fff"/><text x="535.50" y="518.17" text-anchor="middle" font-size="6.204" fill="#4a5272">Spain</text>
<text x="433" y="373.6" class="t" fill="#e6e9f2" stroke="#182144" stroke-width="0.3" paint-order="fill stroke">Europe</text>
<text x="433" y="382.40000000000003" class="s" fill="#bcc2d6">Change font icons, no lose animation</text>
<text x="433.0" y="401.00" class="p" fill="#adb3c9">Aliquam et ante nunc fusce tincidunt eget ligula</text>
<text x="433.0" y="407.00" class="p" fill="#adb3c9">vitae hendrerit. Phasellus id ligula ut enim</text>
<text x="433.0" y="413.00" class="p" fill="#adb3c9">elementum bibendum eget eget magna. Fusce</text>
<text x="433.0" y="419.00" class="p" fill="#adb3c9">in magna diam. Cras dictum suscipit mauris,</text>
<text x="433.0" y="425.00" class="p" fill="#adb3c9">convallis vehicula ex dapibus id. Aliquam neque</text>
<text x="433.0" y="431.00" class="p" fill="#adb3c9">mauris, faucibus eget vulputate a, viverra et</text>
<text x="433.0" y="437.00" class="p" fill="#adb3c9">diam.</text>
</g>
<circle cx="13.6" cy="763.8" r="4.5" fill="none" stroke="#9aa2bd" stroke-width="0.95"/><text x="13.6" y="765.7" text-anchor="middle" font-size="6.4" fill="#9aa2bd">‹</text><circle cx="26.1" cy="763.8" r="4.5" fill="none" stroke="#9aa2bd" stroke-width="0.95"/><text x="26.1" y="765.2" text-anchor="middle" font-size="3.9" fill="#9aa2bd">10</text><circle cx="38.6" cy="763.8" r="4.5" fill="none" stroke="#9aa2bd" stroke-width="0.95"/><text x="38.6" y="765.7" text-anchor="middle" font-size="6.4" fill="#9aa2bd">›</text><circle cx="363.2" cy="763.5" r="4.5" fill="none" stroke="#8f97b5" stroke-width="0.9"/><path d="M364.10,761.20h-0.8q-0.9,0-0.9,1v0.8h-0.7v1h0.7v2.4h1.1v-2.4h0.9l0.15,-1h-1.05v-0.6q0,-0.35 0.4,-0.35h0.7z" fill="#dfe3ee"/><circle cx="375.8" cy="763.5" r="4.5" fill="none" stroke="#8f97b5" stroke-width="0.9"/><path d="M373.70,762.80h0.9v2.8h-0.9zM374.15,761.40a0.55,0.55 0 1 0 0.01,0zM375.20,762.80h0.85v0.4q0.35,-0.5 1,-0.5q1.05,0 1.05,1.3v1.6h-0.9v-1.45q0,-0.65 -0.5,-0.65q-0.6,0 -0.6,0.75v1.35h-0.9z" fill="#dfe3ee"/><circle cx="388.4" cy="763.5" r="4.5" fill="none" stroke="#8f97b5" stroke-width="0.9"/><path d="M390.80,762.00q-0.3,0.15 -0.6,0.18q0.35,-0.2 0.47,-0.57q-0.32,0.18 -0.67,0.25a1.05,1.05 0 0 0 -1.8,0.96q-1.3,-0.07 -2.15,-1.1a1.05,1.05 0 0 0 0.32,1.4q-0.25,0 -0.47,-0.13q0,0.77 0.84,1.04q-0.23,0.06 -0.47,0.02q0.2,0.6 0.98,0.73q-0.7,0.52 -1.55,0.43q2.1,1.15 3.7,-0.35q1,-1 0.97,-2.3q0.3,-0.22 0.43,-0.56z" fill="#dfe3ee"/><text x="353.2" y="764.3" text-anchor="end" class="f" fill="#c9cfe0" textLength="71.5" lengthAdjust="spacingAndGlyphs">Hi0009 | presentation to DesignBall team</text>
</g>
<g clip-path="url(#c10)">
<rect x="4.0" y="100.5" width="394.6" height="222.0" fill="#fff"/>
<g transform="translate(-285.40,-107.50) scale(2.4) translate(-401.3,-325.5)"><use href="#eu" fill="#e0f0fe"/><use href="#bd" stroke="#ffffff" stroke-width="0.3" stroke-opacity="0.45"/></g>
<g transform="translate(0.0,0.0)">
<rect x="4.00" y="157.50" width="18.50" height="10.00" fill="#ececec"/><text x="13.25" y="164.78" text-anchor="middle" font-size="6.5" fill="#f8f8f8">Ireland</text>
<rect x="34.00" y="162.50" width="62.00" height="12.50" fill="#ececec"/><text x="65.00" y="171.41" text-anchor="middle" font-size="7.6" fill="#f8f8f8">United Kingdom</text>
<rect x="114.00" y="186.00" width="30.00" height="8.00" fill="#ececec"/><text x="129.00" y="191.75" text-anchor="middle" font-size="5" fill="#f8f8f8">Netherlands</text>
<rect x="107.50" y="211.00" width="21.50" height="8.00" fill="#ececec"/><text x="118.25" y="216.89" text-anchor="middle" font-size="5.4" fill="#f8f8f8">Belgium</text>
<rect x="61.00" y="265.00" width="39.00" height="16.00" fill="#ececec"/><text x="80.50" y="277.20" text-anchor="middle" font-size="12" fill="#f8f8f8">France</text>
<rect x="132.70" y="267.00" width="36.00" height="9.00" fill="#ececec"/><text x="150.70" y="273.60" text-anchor="middle" font-size="6" fill="#f8f8f8">Switzerland</text>
<rect x="218.00" y="216.75" width="28.00" height="11.50" fill="#ececec"/><text x="232.00" y="225.16" text-anchor="middle" font-size="7.6" fill="#f8f8f8">Czechia</text>
<rect x="214.50" y="251.75" width="31.00" height="11.50" fill="#ececec"/><text x="230.00" y="260.30" text-anchor="middle" font-size="8" fill="#f8f8f8">Austria</text>
<rect x="252.50" y="251.75" width="34.00" height="11.50" fill="#ececec"/><text x="269.50" y="260.30" text-anchor="middle" font-size="8" fill="#f8f8f8">Hungary</text>
<rect x="308.75" y="256.75" width="41.50" height="13.50" fill="#ececec"/><text x="329.50" y="267.00" text-anchor="middle" font-size="10" fill="#f8f8f8">Romania</text>
<rect x="277.50" y="114.00" width="18.50" height="8.50" fill="#ececec"/><text x="286.75" y="120.35" text-anchor="middle" font-size="6" fill="#f8f8f8">Latvia</text>
<rect x="263.50" y="134.00" width="29.00" height="10.00" fill="#ececec"/><text x="278.00" y="141.17" text-anchor="middle" font-size="6.2" fill="#f8f8f8">Lithuania</text>
<rect x="308.50" y="159.00" width="34.00" height="12.00" fill="#ececec"/><text x="325.50" y="167.94" text-anchor="middle" font-size="8.4" fill="#f8f8f8">Belarus</text>
<rect x="356.00" y="199.00" width="34.00" height="12.00" fill="#ececec"/><text x="373.00" y="207.94" text-anchor="middle" font-size="8.4" fill="#f8f8f8">Ukraine</text>
<rect x="347.50" y="232.00" width="23.00" height="8.00" fill="#ececec"/><text x="359.00" y="238.03" text-anchor="middle" font-size="5.8" fill="#f8f8f8">Moldova</text>
<rect x="249.50" y="230.25" width="23.00" height="7.50" fill="#ececec"/><text x="261.00" y="235.96" text-anchor="middle" font-size="5.6" fill="#f8f8f8">Slovakia</text>
<rect x="212.00" y="269.00" width="17.00" height="8.00" fill="#ececec"/><text x="220.50" y="274.75" text-anchor="middle" font-size="5" fill="#f8f8f8">Slovenia</text>
<rect x="209.50" y="285.75" width="19.00" height="8.50" fill="#ececec"/><text x="219.00" y="291.89" text-anchor="middle" font-size="5.4" fill="#f8f8f8">Croatia</text>
<rect x="250.25" y="290.50" width="16.50" height="7.50" fill="#ececec"/><text x="258.50" y="296.00" text-anchor="middle" font-size="5" fill="#f8f8f8">Bosnia</text>
<rect x="281.70" y="287.00" width="21.00" height="8.50" fill="#ececec"/><text x="292.20" y="293.21" text-anchor="middle" font-size="5.6" fill="#f8f8f8">Serbia</text>
<rect x="322.70" y="299.75" width="30.00" height="10.50" fill="#ececec"/><text x="337.70" y="307.52" text-anchor="middle" font-size="7.2" fill="#f8f8f8">Bulgaria</text>
<rect x="246.20" y="312.00" width="29.00" height="7.50" fill="#ececec"/><text x="260.70" y="317.50" text-anchor="middle" font-size="5" fill="#f8f8f8">Montenegro</text>
<rect x="290.40" y="308.25" width="18.00" height="7.50" fill="#ececec"/><text x="299.40" y="313.75" text-anchor="middle" font-size="5" fill="#f8f8f8">Kosovo</text>
<rect x="195.00" y="314.50" width="20.00" height="8.00" fill="#ececec"/><text x="205.00" y="320.60" text-anchor="middle" font-size="6" fill="#f8f8f8">Italy</text>
<path d="M169.5,159.3 L173.8,160.1 L178.1,159.3 L181.0,162.2 L183.8,163.7 L188.2,164.4 L189.6,167.2 L187.4,170.1 L191.0,170.8 L196.8,168.7 L202.5,165.8 L206.8,162.9 L209.7,164.4 L209.7,168.7 L212.6,171.6 L213.3,175.9 L215.5,180.2 L216.2,185.9 L218.3,190.2 L219.1,196.0 L221.2,200.3 L223.4,205.3 L222.6,208.9 L219.1,210.3 L215.5,212.5 L211.2,214.7 L206.8,216.8 L202.5,218.7 L199.7,220.4 L201.8,224.7 L205.4,229.0 L209.7,233.3 L213.3,237.6 L214.7,241.2 L211.2,243.4 L208.3,246.3 L209.0,250.6 L209.7,254.9 L206.8,256.3 L202.5,254.2 L198.2,255.6 L192.5,257.0 L186.7,257.8 L183.8,259.9 L180.3,257.8 L175.2,256.3 L169.5,257.0 L163.7,257.0 L158.7,256.3 L158.0,252.0 L158.7,247.7 L160.1,243.4 L162.3,239.1 L158.0,236.9 L153.7,234.8 L150.1,231.9 L148.7,227.6 L147.2,223.3 L147.9,219.0 L146.5,214.7 L147.2,210.3 L146.5,206.0 L147.9,201.7 L147.2,199.6 L150.8,198.1 L153.7,196.0 L155.1,191.7 L154.4,188.8 L156.6,185.9 L155.8,181.6 L156.6,177.3 L158.0,175.1 L162.3,174.4 L165.2,175.9 L168.8,174.4 L172.4,171.6 L171.6,168.0 L169.5,164.4 L170.2,161.5Z" fill="#182144" />
<rect x="154.40" y="202.45" width="48.20" height="14.30" fill="#1eb0f5"/><text x="178.50" y="213.45" text-anchor="middle" font-size="11" fill="#a8e9ff">Germany</text>
<text x="247.5" y="189.3" class="t" fill="#3c3c3c" stroke="#e0f0fe" stroke-width="0.3" paint-order="fill stroke">Germany</text>
<text x="247.5" y="198.10000000000002" class="s" fill="#959595">Change font icons, no lose animation</text>
<text x="248.5" y="211.70" class="p" fill="#8a8a8a">Aliquam et ante nunc fusce tincidunt eget ligula</text>
<text x="248.5" y="217.50" class="p" fill="#8a8a8a">vitae hendrerit. Phasellus id ligula ut enim</text>
<text x="248.5" y="223.30" class="p" fill="#8a8a8a">elementum bibendum eget eget magna. Fusce</text>
<text x="248.5" y="229.10" class="p" fill="#8a8a8a">in magna diam.</text>
<line x1="4.5" y1="322.1" x2="110" y2="322.1" stroke="#9fb6c8" stroke-width="0.6" stroke-opacity="0.85"/>
<line x1="172" y1="322.1" x2="175.6" y2="322.1" stroke="#9fb6c8" stroke-width="0.6" stroke-opacity="0.85"/>
<line x1="192.5" y1="322.1" x2="224.6" y2="322.1" stroke="#9fb6c8" stroke-width="0.6" stroke-opacity="0.85"/>
<line x1="275" y1="322.1" x2="363" y2="322.1" stroke="#9fb6c8" stroke-width="0.6" stroke-opacity="0.85"/>
<line x1="383" y1="322.1" x2="398" y2="322.1" stroke="#9fb6c8" stroke-width="0.6" stroke-opacity="0.85"/>
</g>
</g>
<g clip-path="url(#c31)">
<rect x="401.3" y="550.5" width="394.6" height="222.0" fill="#182144"/>
<g transform="translate(111.90,342.50) scale(2.4) translate(-401.3,-325.5)"><use href="#eu" fill="#1b315e"/><use href="#bd" stroke="#182144" stroke-width="0.3" stroke-opacity="0.45"/></g>
<g transform="translate(397.3,450.0)">
<rect x="4.00" y="157.50" width="18.50" height="10.00" fill="#37446d"/><text x="13.25" y="164.78" text-anchor="middle" font-size="6.5" fill="#56638c">Ireland</text>
<rect x="34.00" y="162.50" width="62.00" height="12.50" fill="#37446d"/><text x="65.00" y="171.41" text-anchor="middle" font-size="7.6" fill="#56638c">United Kingdom</text>
<rect x="114.00" y="186.00" width="30.00" height="8.00" fill="#37446d"/><text x="129.00" y="191.75" text-anchor="middle" font-size="5" fill="#56638c">Netherlands</text>
<rect x="107.50" y="211.00" width="21.50" height="8.00" fill="#37446d"/><text x="118.25" y="216.89" text-anchor="middle" font-size="5.4" fill="#56638c">Belgium</text>
<rect x="61.00" y="265.00" width="39.00" height="16.00" fill="#37446d"/><text x="80.50" y="277.20" text-anchor="middle" font-size="12" fill="#56638c">France</text>
<rect x="132.70" y="267.00" width="36.00" height="9.00" fill="#37446d"/><text x="150.70" y="273.60" text-anchor="middle" font-size="6" fill="#56638c">Switzerland</text>
<rect x="218.00" y="216.75" width="28.00" height="11.50" fill="#37446d"/><text x="232.00" y="225.16" text-anchor="middle" font-size="7.6" fill="#56638c">Czechia</text>
<rect x="214.50" y="251.75" width="31.00" height="11.50" fill="#37446d"/><text x="230.00" y="260.30" text-anchor="middle" font-size="8" fill="#56638c">Austria</text>
<rect x="252.50" y="251.75" width="34.00" height="11.50" fill="#37446d"/><text x="269.50" y="260.30" text-anchor="middle" font-size="8" fill="#56638c">Hungary</text>
<rect x="308.75" y="256.75" width="41.50" height="13.50" fill="#37446d"/><text x="329.50" y="267.00" text-anchor="middle" font-size="10" fill="#56638c">Romania</text>
<rect x="277.50" y="114.00" width="18.50" height="8.50" fill="#37446d"/><text x="286.75" y="120.35" text-anchor="middle" font-size="6" fill="#56638c">Latvia</text>
<rect x="263.50" y="134.00" width="29.00" height="10.00" fill="#37446d"/><text x="278.00" y="141.17" text-anchor="middle" font-size="6.2" fill="#56638c">Lithuania</text>
<rect x="308.50" y="159.00" width="34.00" height="12.00" fill="#37446d"/><text x="325.50" y="167.94" text-anchor="middle" font-size="8.4" fill="#56638c">Belarus</text>
<rect x="356.00" y="199.00" width="34.00" height="12.00" fill="#37446d"/><text x="373.00" y="207.94" text-anchor="middle" font-size="8.4" fill="#56638c">Ukraine</text>
<rect x="347.50" y="232.00" width="23.00" height="8.00" fill="#37446d"/><text x="359.00" y="238.03" text-anchor="middle" font-size="5.8" fill="#56638c">Moldova</text>
<rect x="249.50" y="230.25" width="23.00" height="7.50" fill="#37446d"/><text x="261.00" y="235.96" text-anchor="middle" font-size="5.6" fill="#56638c">Slovakia</text>
<rect x="212.00" y="269.00" width="17.00" height="8.00" fill="#37446d"/><text x="220.50" y="274.75" text-anchor="middle" font-size="5" fill="#56638c">Slovenia</text>
<rect x="209.50" y="285.75" width="19.00" height="8.50" fill="#37446d"/><text x="219.00" y="291.89" text-anchor="middle" font-size="5.4" fill="#56638c">Croatia</text>
<rect x="250.25" y="290.50" width="16.50" height="7.50" fill="#37446d"/><text x="258.50" y="296.00" text-anchor="middle" font-size="5" fill="#56638c">Bosnia</text>
<rect x="281.70" y="287.00" width="21.00" height="8.50" fill="#37446d"/><text x="292.20" y="293.21" text-anchor="middle" font-size="5.6" fill="#56638c">Serbia</text>
<rect x="322.70" y="299.75" width="30.00" height="10.50" fill="#37446d"/><text x="337.70" y="307.52" text-anchor="middle" font-size="7.2" fill="#56638c">Bulgaria</text>
<rect x="246.20" y="312.00" width="29.00" height="7.50" fill="#37446d"/><text x="260.70" y="317.50" text-anchor="middle" font-size="5" fill="#56638c">Montenegro</text>
<rect x="290.40" y="308.25" width="18.00" height="7.50" fill="#37446d"/><text x="299.40" y="313.75" text-anchor="middle" font-size="5" fill="#56638c">Kosovo</text>
<rect x="195.00" y="314.50" width="20.00" height="8.00" fill="#37446d"/><text x="205.00" y="320.60" text-anchor="middle" font-size="6" fill="#56638c">Italy</text>
<path d="M169.5,159.3 L173.8,160.1 L178.1,159.3 L181.0,162.2 L183.8,163.7 L188.2,164.4 L189.6,167.2 L187.4,170.1 L191.0,170.8 L196.8,168.7 L202.5,165.8 L206.8,162.9 L209.7,164.4 L209.7,168.7 L212.6,171.6 L213.3,175.9 L215.5,180.2 L216.2,185.9 L218.3,190.2 L219.1,196.0 L221.2,200.3 L223.4,205.3 L222.6,208.9 L219.1,210.3 L215.5,212.5 L211.2,214.7 L206.8,216.8 L202.5,218.7 L199.7,220.4 L201.8,224.7 L205.4,229.0 L209.7,233.3 L213.3,237.6 L214.7,241.2 L211.2,243.4 L208.3,246.3 L209.0,250.6 L209.7,254.9 L206.8,256.3 L202.5,254.2 L198.2,255.6 L192.5,257.0 L186.7,257.8 L183.8,259.9 L180.3,257.8 L175.2,256.3 L169.5,257.0 L163.7,257.0 L158.7,256.3 L158.0,252.0 L158.7,247.7 L160.1,243.4 L162.3,239.1 L158.0,236.9 L153.7,234.8 L150.1,231.9 L148.7,227.6 L147.2,223.3 L147.9,219.0 L146.5,214.7 L147.2,210.3 L146.5,206.0 L147.9,201.7 L147.2,199.6 L150.8,198.1 L153.7,196.0 L155.1,191.7 L154.4,188.8 L156.6,185.9 L155.8,181.6 L156.6,177.3 L158.0,175.1 L162.3,174.4 L165.2,175.9 L168.8,174.4 L172.4,171.6 L171.6,168.0 L169.5,164.4 L170.2,161.5Z" fill="#fff" />
<rect x="154.40" y="202.45" width="48.20" height="14.30" fill="#1eb0f5"/><text x="178.50" y="213.45" text-anchor="middle" font-size="11" fill="#1786c9">Germany</text>
<text x="247.5" y="189.3" class="t" fill="#e6e9f2" stroke="#1b315e" stroke-width="0.3" paint-order="fill stroke">Germany</text>
<text x="247.5" y="198.10000000000002" class="s" fill="#bcc2d6">Change font icons, no lose animation</text>
<text x="248.5" y="211.70" class="p" fill="#adb3c9">Aliquam et ante nunc fusce tincidunt eget ligula</text>
<text x="248.5" y="217.50" class="p" fill="#adb3c9">vitae hendrerit. Phasellus id ligula ut enim</text>
<text x="248.5" y="223.30" class="p" fill="#adb3c9">elementum bibendum eget eget magna. Fusce</text>
<text x="248.5" y="229.10" class="p" fill="#adb3c9">in magna diam.</text>
</g>
</g>
<g clip-path="url(#c11)">
<rect x="401.3" y="100.5" width="394.6" height="222.0" fill="#fff"/>
<g transform="translate(0.0,0.0)">
<path d="M588.0,100.5 L604.0,100.5 L607.0,103.5 L610.0,105.0 L612.0,102.5 L613.5,106.0 L616.0,109.0 L616.5,114.0 L615.5,119.0 L614.0,124.0 L611.5,128.0 L610.0,131.0 L607.0,130.0 L603.0,131.5 L599.0,132.5 L594.0,133.0 L589.0,134.0 L583.0,133.5 L579.0,131.5 L576.5,128.0 L577.5,124.5 L581.0,122.5 L585.0,120.0 L588.0,117.0 L590.0,114.5 L592.0,113.0 L589.0,111.5 L586.0,109.5 L584.5,107.0 L586.5,104.0Z" fill="#2893fd" />
<path d="M743.8,115.0 L746.9,113.0 L752.5,112.5 L758.8,111.2 L760.0,116.2 L758.0,126.2 L756.0,131.2 L752.5,134.0 L751.0,136.2 L751.0,141.2 L749.5,145.0 L750.5,150.0 L749.5,155.0 L747.5,156.2 L745.6,158.8 L744.4,161.9 L741.9,162.5 L740.0,160.0 L736.2,158.8 L734.4,155.6 L730.6,153.8 L728.8,150.0 L725.0,148.0 L722.5,146.2 L725.0,142.5 L728.0,135.0 L731.2,132.5 L735.0,130.0 L740.0,128.0 L744.4,126.9 L745.0,121.9 L743.0,118.8Z" fill="#2893fd" />
<path d="M736.2,100.5 L746.0,100.5 L747.0,104.5 L744.0,108.5 L738.0,108.3 L735.8,105.0Z" fill="#2893fd" />
<path d="M749.2,100.5 L756.2,100.5 L755.8,104.2 L752.8,106.0 L749.8,104.4Z" fill="#2893fd" />
<path d="M757.8,100.5 L765.6,100.5 L766.2,105.0 L763.8,107.5 L759.4,106.2Z" fill="#2893fd" />
<path d="M724.4,230.0 L726.9,226.2 L730.0,222.5 L733.0,218.8 L737.5,217.5 L742.5,216.9 L746.2,214.4 L745.6,210.0 L748.0,208.8 L751.2,211.2 L755.0,210.6 L756.2,208.0 L760.0,210.0 L765.0,209.4 L770.0,207.5 L775.0,205.0 L777.5,201.2 L776.2,197.5 L780.0,195.0 L785.0,192.5 L790.0,192.5 L795.6,191.9 L795.6,221.2 L790.0,220.0 L785.0,220.6 L780.0,219.4 L775.0,217.5 L771.2,214.4 L767.5,213.8 L762.5,215.6 L758.8,218.8 L756.2,221.9 L758.8,223.8 L763.8,225.0 L765.0,228.8 L761.2,231.2 L757.5,230.6 L755.0,233.0 L752.5,237.5 L750.0,235.0 L747.5,231.9 L743.8,233.0 L740.0,235.0 L736.2,237.5 L732.5,238.0 L731.2,234.4 L728.0,232.5Z" fill="#2893fd" />
<path d="M744.4,265.0 L746.2,260.0 L745.6,256.2 L748.8,253.0 L752.5,252.5 L756.2,250.0 L760.0,247.5 L762.5,250.0 L766.2,252.5 L768.0,248.8 L772.5,247.5 L777.5,246.9 L782.5,246.2 L787.5,243.8 L790.0,240.0 L787.5,235.0 L786.2,231.2 L790.0,228.8 L795.6,228.0 L795.6,306.2 L790.4,302.0 L785.0,295.2 L780.8,287.0 L778.0,278.8 L770.0,276.5 L763.0,276.0 L757.5,277.5 L752.0,276.0 L747.8,272.0Z" fill="#2893fd" />
<path d="M591.0,289.8 L599.2,285.6 L607.5,282.9 L615.8,285.6 L626.8,289.8 L640.5,292.5 L654.2,296.6 L665.2,300.8 L673.5,306.2 L681.8,310.4 L690.0,313.0 L698.2,314.0 L695.5,317.2 L690.0,320.0 L686.0,322.5 L588.0,322.5 L589.6,314.5 L591.0,306.2 L589.6,298.0Z" fill="#2893fd" />
<path d="M757.5,322.5 L760.0,320.5 L764.0,318.0 L767.5,316.8 L770.0,318.5 L773.0,321.0 L774.0,322.5Z" fill="#2893fd" />
<path d="M773.0,100.5 L771.9,106.2 L768.0,108.0 L767.5,111.9 L762.5,109.4 L758.8,111.2 L757.5,116.2 L758.0,121.2 L756.2,126.2 L755.0,131.2 L751.2,133.0 L749.4,136.2 L750.0,141.2 L748.0,145.0 L749.4,150.0 L748.8,155.0 L750.0,158.8 L749.4,162.5 L751.2,166.2 L755.0,168.8 L758.8,170.6 L762.5,172.5 L765.0,173.8 L762.5,177.5 L761.2,181.2 L760.0,186.2 L760.0,190.0 L765.0,190.6 L770.0,189.4 L775.0,190.0 L780.0,191.2 L785.0,192.5 L788.8,191.2 L795.6,191.9 L795.6,102.5 L792.5,103.8 L788.8,105.0 L787.5,100.5Z" fill="#182144" />
<path d="M675.9,160.5 L682.0,159.6 L684.6,163.1 L689.0,164.9 L691.6,168.4 L696.0,170.1 L697.8,174.5 L702.1,176.2 L704.8,179.8 L710.0,182.4 L715.3,184.1 L721.4,186.8 L727.5,188.5 L731.4,190.2 L729.3,195.5 L727.5,200.8 L725.8,206.0 L724.0,211.2 L719.6,214.8 L717.0,218.2 L714.4,221.8 L712.6,225.2 L716.1,224.4 L718.8,225.2 L719.6,230.5 L717.0,234.0 L719.6,237.5 L718.8,242.8 L721.4,247.1 L720.5,251.5 L725.8,255.0 L724.0,258.5 L719.6,262.0 L714.4,265.5 L708.3,266.4 L703.0,264.6 L697.8,262.0 L692.5,261.1 L687.2,262.9 L682.9,267.3 L681.1,272.5 L680.2,275.1 L675.0,275.1 L668.9,272.5 L662.8,270.8 L657.5,269.0 L650.5,268.1 L643.5,265.5 L637.4,262.0 L633.9,257.6 L635.6,251.5 L637.4,244.5 L639.1,237.5 L640.0,230.5 L641.8,223.5 L640.0,218.2 L636.5,213.0 L633.9,207.8 L631.2,202.5 L626.9,199.0 L622.5,195.5 L617.2,192.9 L614.6,191.1 L615.5,187.6 L613.8,185.0 L618.1,183.2 L624.2,182.4 L629.5,183.2 L635.6,185.0 L640.0,185.9 L643.5,184.1 L643.5,178.9 L641.8,172.8 L646.1,173.6 L648.8,178.0 L654.9,178.9 L661.0,176.2 L666.2,172.8 L671.5,169.2 L675.0,164.9Z" fill="#182144" />
<path d="M741.0,273.2 L744.5,276.0 L745.0,284.2 L742.2,291.0 L738.0,289.8 L736.8,281.5 L738.0,276.0Z" fill="#182144" />
<rect x="715.20" y="121.50" width="30.40" height="6.50" fill="#10286e"/><text x="730.40" y="126.29" text-anchor="middle" font-size="4.4" fill="#fff">Netherlands</text>
<rect x="716.25" y="137.55" width="24.00" height="6.90" fill="#10286e"/><text x="728.25" y="142.68" text-anchor="middle" font-size="4.8" fill="#fff">Belgium</text>
<rect x="755.6" y="136.9" width="40" height="15" fill="#1eb0f5"/><text x="757.8" y="148.4" font-size="11.4" fill="#a8e9ff">Germany</text>
<rect x="782.5" y="203.75" width="14" height="10.7" fill="#10286e"/><text x="784" y="212" font-size="8" fill="#fff">Austria</text>
<rect x="780.6" y="223" width="16" height="5.75" fill="#10286e"/><text x="781.6" y="227.2" font-size="3.6" fill="#fff">Liechtenstein</text>
<rect x="754.40" y="237.45" width="36.20" height="8.10" fill="#10286e"/><text x="772.50" y="243.60" text-anchor="middle" font-size="6" fill="#fff">Switzerland</text>
<rect x="764.00" y="267.55" width="19.00" height="11.90" fill="#10286e"/><text x="773.50" y="276.51" text-anchor="middle" font-size="8.6" fill="#fff">Italy</text>
<rect x="658.40" y="207.45" width="40.60" height="16.10" fill="#1eb0f5"/><text x="678.70" y="219.53" text-anchor="middle" font-size="11.5" fill="#a8e9ff">France</text>
<text x="487.5" y="196.2" class="t" fill="#3c3c3c" stroke="#fff" stroke-width="0.3" paint-order="fill stroke">France</text>
<text x="487.5" y="205.0" class="s" fill="#959595">Change font icons, no lose animation</text>
<text x="488.5" y="218.60" class="p" fill="#8a8a8a">Fusce tincidunt eget ligula vitae hendrerit.</text>
<text x="488.5" y="224.40" class="p" fill="#8a8a8a">Phasellus id ligula ut enim elementum</text>
<text x="488.5" y="230.20" class="p" fill="#8a8a8a">bibendum eget eget magna. Fusce in magna</text>
<text x="488.5" y="236.00" class="p" fill="#8a8a8a">diam.</text>
</g>
<circle cx="410.9" cy="313.8" r="4.5" fill="none" stroke="#b2b2b2" stroke-width="0.95"/><text x="410.9" y="315.7" text-anchor="middle" font-size="6.4" fill="#b2b2b2">‹</text><circle cx="423.4" cy="313.8" r="4.5" fill="none" stroke="#b2b2b2" stroke-width="0.95"/><text x="423.4" y="315.2" text-anchor="middle" font-size="3.9" fill="#b2b2b2">7</text><circle cx="435.9" cy="313.8" r="4.5" fill="none" stroke="#b2b2b2" stroke-width="0.95"/><text x="435.9" y="315.7" text-anchor="middle" font-size="6.4" fill="#b2b2b2">›</text><circle cx="760.5" cy="313.5" r="4.5" fill="none" stroke="#c4c0c8" stroke-width="0.9"/><path d="M761.40,311.20h-0.8q-0.9,0-0.9,1v0.8h-0.7v1h0.7v2.4h1.1v-2.4h0.9l0.15,-1h-1.05v-0.6q0,-0.35 0.4,-0.35h0.7z" fill="#3a3a3a"/><circle cx="773.1" cy="313.5" r="4.5" fill="none" stroke="#c4c0c8" stroke-width="0.9"/><path d="M771.00,312.80h0.9v2.8h-0.9zM771.45,311.40a0.55,0.55 0 1 0 0.01,0zM772.50,312.80h0.85v0.4q0.35,-0.5 1,-0.5q1.05,0 1.05,1.3v1.6h-0.9v-1.45q0,-0.65 -0.5,-0.65q-0.6,0 -0.6,0.75v1.35h-0.9z" fill="#3a3a3a"/><circle cx="785.7" cy="313.5" r="4.5" fill="none" stroke="#c4c0c8" stroke-width="0.9"/><path d="M788.10,312.00q-0.3,0.15 -0.6,0.18q0.35,-0.2 0.47,-0.57q-0.32,0.18 -0.67,0.25a1.05,1.05 0 0 0 -1.8,0.96q-1.3,-0.07 -2.15,-1.1a1.05,1.05 0 0 0 0.32,1.4q-0.25,0 -0.47,-0.13q0,0.77 0.84,1.04q-0.23,0.06 -0.47,0.02q0.2,0.6 0.98,0.73q-0.7,0.52 -1.55,0.43q2.1,1.15 3.7,-0.35q1,-1 0.97,-2.3q0.3,-0.22 0.43,-0.56z" fill="#3a3a3a"/><text x="750.5" y="314.3" text-anchor="end" class="f" fill="#777" textLength="71.5" lengthAdjust="spacingAndGlyphs">Hi0009 | presentation to DesignBall team</text>
</g>
<g clip-path="url(#c40)">
<rect x="4.0" y="775.5" width="394.6" height="222.0" fill="#182144"/>
<g transform="translate(-397.3,675.0)">
<path d="M734.5,100.5 L770.0,100.5 L768.0,112.0 L762.0,122.0 L758.0,135.0 L748.0,140.0 L738.0,132.0 L734.0,118.0Z" fill="#1a3a84" />
<path d="M588.0,100.5 L604.0,100.5 L607.0,103.5 L610.0,105.0 L612.0,102.5 L613.5,106.0 L616.0,109.0 L616.5,114.0 L615.5,119.0 L614.0,124.0 L611.5,128.0 L610.0,131.0 L607.0,130.0 L603.0,131.5 L599.0,132.5 L594.0,133.0 L589.0,134.0 L583.0,133.5 L579.0,131.5 L576.5,128.0 L577.5,124.5 L581.0,122.5 L585.0,120.0 L588.0,117.0 L590.0,114.5 L592.0,113.0 L589.0,111.5 L586.0,109.5 L584.5,107.0 L586.5,104.0Z" fill="#2893fd" />
<path d="M743.8,115.0 L746.9,113.0 L752.5,112.5 L758.8,111.2 L760.0,116.2 L758.0,126.2 L756.0,131.2 L752.5,134.0 L751.0,136.2 L751.0,141.2 L749.5,145.0 L750.5,150.0 L749.5,155.0 L747.5,156.2 L745.6,158.8 L744.4,161.9 L741.9,162.5 L740.0,160.0 L736.2,158.8 L734.4,155.6 L730.6,153.8 L728.8,150.0 L725.0,148.0 L722.5,146.2 L725.0,142.5 L728.0,135.0 L731.2,132.5 L735.0,130.0 L740.0,128.0 L744.4,126.9 L745.0,121.9 L743.0,118.8Z" fill="#2893fd" />
<path d="M736.2,100.5 L746.0,100.5 L747.0,104.5 L744.0,108.5 L738.0,108.3 L735.8,105.0Z" fill="#2893fd" />
<path d="M749.2,100.5 L756.2,100.5 L755.8,104.2 L752.8,106.0 L749.8,104.4Z" fill="#2893fd" />
<path d="M757.8,100.5 L765.6,100.5 L766.2,105.0 L763.8,107.5 L759.4,106.2Z" fill="#2893fd" />
<path d="M724.4,230.0 L726.9,226.2 L730.0,222.5 L733.0,218.8 L737.5,217.5 L742.5,216.9 L746.2,214.4 L745.6,210.0 L748.0,208.8 L751.2,211.2 L755.0,210.6 L756.2,208.0 L760.0,210.0 L765.0,209.4 L770.0,207.5 L775.0,205.0 L777.5,201.2 L776.2,197.5 L780.0,195.0 L785.0,192.5 L790.0,192.5 L795.6,191.9 L795.6,221.2 L790.0,220.0 L785.0,220.6 L780.0,219.4 L775.0,217.5 L771.2,214.4 L767.5,213.8 L762.5,215.6 L758.8,218.8 L756.2,221.9 L758.8,223.8 L763.8,225.0 L765.0,228.8 L761.2,231.2 L757.5,230.6 L755.0,233.0 L752.5,237.5 L750.0,235.0 L747.5,231.9 L743.8,233.0 L740.0,235.0 L736.2,237.5 L732.5,238.0 L731.2,234.4 L728.0,232.5Z" fill="#2893fd" />
<path d="M744.4,265.0 L746.2,260.0 L745.6,256.2 L748.8,253.0 L752.5,252.5 L756.2,250.0 L760.0,247.5 L762.5,250.0 L766.2,252.5 L768.0,248.8 L772.5,247.5 L777.5,246.9 L782.5,246.2 L787.5,243.8 L790.0,240.0 L787.5,235.0 L786.2,231.2 L790.0,228.8 L795.6,228.0 L795.6,306.2 L790.4,302.0 L785.0,295.2 L780.8,287.0 L778.0,278.8 L770.0,276.5 L763.0,276.0 L757.5,277.5 L752.0,276.0 L747.8,272.0Z" fill="#2893fd" />
<path d="M591.0,289.8 L599.2,285.6 L607.5,282.9 L615.8,285.6 L626.8,289.8 L640.5,292.5 L654.2,296.6 L665.2,300.8 L673.5,306.2 L681.8,310.4 L690.0,313.0 L698.2,314.0 L695.5,317.2 L690.0,320.0 L686.0,322.5 L588.0,322.5 L589.6,314.5 L591.0,306.2 L589.6,298.0Z" fill="#2893fd" />
<path d="M757.5,322.5 L760.0,320.5 L764.0,318.0 L767.5,316.8 L770.0,318.5 L773.0,321.0 L774.0,322.5Z" fill="#2893fd" />
<path d="M773.0,100.5 L771.9,106.2 L768.0,108.0 L767.5,111.9 L762.5,109.4 L758.8,111.2 L757.5,116.2 L758.0,121.2 L756.2,126.2 L755.0,131.2 L751.2,133.0 L749.4,136.2 L750.0,141.2 L748.0,145.0 L749.4,150.0 L748.8,155.0 L750.0,158.8 L749.4,162.5 L751.2,166.2 L755.0,168.8 L758.8,170.6 L762.5,172.5 L765.0,173.8 L762.5,177.5 L761.2,181.2 L760.0,186.2 L760.0,190.0 L765.0,190.6 L770.0,189.4 L775.0,190.0 L780.0,191.2 L785.0,192.5 L788.8,191.2 L795.6,191.9 L795.6,102.5 L792.5,103.8 L788.8,105.0 L787.5,100.5Z" fill="#fff" />
<path d="M675.9,160.5 L682.0,159.6 L684.6,163.1 L689.0,164.9 L691.6,168.4 L696.0,170.1 L697.8,174.5 L702.1,176.2 L704.8,179.8 L710.0,182.4 L715.3,184.1 L721.4,186.8 L727.5,188.5 L731.4,190.2 L729.3,195.5 L727.5,200.8 L725.8,206.0 L724.0,211.2 L719.6,214.8 L717.0,218.2 L714.4,221.8 L712.6,225.2 L716.1,224.4 L718.8,225.2 L719.6,230.5 L717.0,234.0 L719.6,237.5 L718.8,242.8 L721.4,247.1 L720.5,251.5 L725.8,255.0 L724.0,258.5 L719.6,262.0 L714.4,265.5 L708.3,266.4 L703.0,264.6 L697.8,262.0 L692.5,261.1 L687.2,262.9 L682.9,267.3 L681.1,272.5 L680.2,275.1 L675.0,275.1 L668.9,272.5 L662.8,270.8 L657.5,269.0 L650.5,268.1 L643.5,265.5 L637.4,262.0 L633.9,257.6 L635.6,251.5 L637.4,244.5 L639.1,237.5 L640.0,230.5 L641.8,223.5 L640.0,218.2 L636.5,213.0 L633.9,207.8 L631.2,202.5 L626.9,199.0 L622.5,195.5 L617.2,192.9 L614.6,191.1 L615.5,187.6 L613.8,185.0 L618.1,183.2 L624.2,182.4 L629.5,183.2 L635.6,185.0 L640.0,185.9 L643.5,184.1 L643.5,178.9 L641.8,172.8 L646.1,173.6 L648.8,178.0 L654.9,178.9 L661.0,176.2 L666.2,172.8 L671.5,169.2 L675.0,164.9Z" fill="#fff" />
<path d="M741.0,273.2 L744.5,276.0 L745.0,284.2 L742.2,291.0 L738.0,289.8 L736.8,281.5 L738.0,276.0Z" fill="#fff" />
<rect x="715.20" y="121.50" width="30.40" height="6.50" fill="#fff"/><text x="730.40" y="126.29" text-anchor="middle" font-size="4.4" fill="#182144">Netherlands</text>
<rect x="716.25" y="137.55" width="24.00" height="6.90" fill="#fff"/><text x="728.25" y="142.68" text-anchor="middle" font-size="4.8" fill="#182144">Belgium</text>
<rect x="755.6" y="136.9" width="40" height="15" fill="#1eb0f5"/><text x="757.8" y="148.4" font-size="11.4" fill="#a8e9ff">Germany</text>
<rect x="782.5" y="203.75" width="14" height="10.7" fill="#fff"/><text x="784" y="212" font-size="8" fill="#182144">Austria</text>
<rect x="780.6" y="223" width="16" height="5.75" fill="#fff"/><text x="781.6" y="227.2" font-size="3.6" fill="#182144">Liechtenstein</text>
<rect x="754.40" y="237.45" width="36.20" height="8.10" fill="#fff"/><text x="772.50" y="243.60" text-anchor="middle" font-size="6" fill="#182144">Switzerland</text>
<rect x="764.00" y="267.55" width="19.00" height="11.90" fill="#fff"/><text x="773.50" y="276.51" text-anchor="middle" font-size="8.6" fill="#182144">Italy</text>
<rect x="658.40" y="207.45" width="40.60" height="16.10" fill="#1eb0f5"/><text x="678.70" y="219.53" text-anchor="middle" font-size="11.5" fill="#a8e9ff">France</text>
<text x="487.5" y="196.2" class="t" fill="#e6e9f2" stroke="#182144" stroke-width="0.3" paint-order="fill stroke">France</text>
<text x="487.5" y="205.0" class="s" fill="#bcc2d6">Change font icons, no lose animation</text>
<text x="488.5" y="218.60" class="p" fill="#adb3c9">Fusce tincidunt eget ligula vitae hendrerit.</text>
<text x="488.5" y="224.40" class="p" fill="#adb3c9">Phasellus id ligula ut enim elementum</text>
<text x="488.5" y="230.20" class="p" fill="#adb3c9">bibendum eget eget magna. Fusce in magna</text>
<text x="488.5" y="236.00" class="p" fill="#adb3c9">diam.</text>
</g>
<circle cx="13.6" cy="988.8" r="4.5" fill="none" stroke="#9aa2bd" stroke-width="0.95"/><text x="13.6" y="990.7" text-anchor="middle" font-size="6.4" fill="#9aa2bd">‹</text><circle cx="26.1" cy="988.8" r="4.5" fill="none" stroke="#9aa2bd" stroke-width="0.95"/><text x="26.1" y="990.2" text-anchor="middle" font-size="3.9" fill="#9aa2bd">12</text><circle cx="38.6" cy="988.8" r="4.5" fill="none" stroke="#9aa2bd" stroke-width="0.95"/><text x="38.6" y="990.7" text-anchor="middle" font-size="6.4" fill="#9aa2bd">›</text><circle cx="363.2" cy="988.5" r="4.5" fill="none" stroke="#8f97b5" stroke-width="0.9"/><path d="M364.10,986.20h-0.8q-0.9,0-0.9,1v0.8h-0.7v1h0.7v2.4h1.1v-2.4h0.9l0.15,-1h-1.05v-0.6q0,-0.35 0.4,-0.35h0.7z" fill="#dfe3ee"/><circle cx="375.8" cy="988.5" r="4.5" fill="none" stroke="#8f97b5" stroke-width="0.9"/><path d="M373.70,987.80h0.9v2.8h-0.9zM374.15,986.40a0.55,0.55 0 1 0 0.01,0zM375.20,987.80h0.85v0.4q0.35,-0.5 1,-0.5q1.05,0 1.05,1.3v1.6h-0.9v-1.45q0,-0.65 -0.5,-0.65q-0.6,0 -0.6,0.75v1.35h-0.9z" fill="#dfe3ee"/><circle cx="388.4" cy="988.5" r="4.5" fill="none" stroke="#8f97b5" stroke-width="0.9"/><path d="M390.80,987.00q-0.3,0.15 -0.6,0.18q0.35,-0.2 0.47,-0.57q-0.32,0.18 -0.67,0.25a1.05,1.05 0 0 0 -1.8,0.96q-1.3,-0.07 -2.15,-1.1a1.05,1.05 0 0 0 0.32,1.4q-0.25,0 -0.47,-0.13q0,0.77 0.84,1.04q-0.23,0.06 -0.47,0.02q0.2,0.6 0.98,0.73q-0.7,0.52 -1.55,0.43q2.1,1.15 3.7,-0.35q1,-1 0.97,-2.3q0.3,-0.22 0.43,-0.56z" fill="#dfe3ee"/><text x="353.2" y="989.3" text-anchor="end" class="f" fill="#c9cfe0" textLength="71.5" lengthAdjust="spacingAndGlyphs">Hi0009 | presentation to DesignBall team</text>
</g>
<g clip-path="url(#c20)">
<rect x="4.0" y="325.5" width="394.6" height="222.0" fill="#fff"/>
<path d="M56.6,390.5 L59.5,387.6 L66.3,386.6 L72.1,383.7 L77.0,384.7 L83.8,388.6 L91.5,390.5 L99.2,393.4 L107.0,396.3 L114.8,397.3 L122.5,399.2 L130.2,402.1 L136.1,406.0 L141.9,408.9 L149.6,411.8 L157.4,413.8 L163.2,416.7 L170.9,419.6 L178.7,420.5 L183.0,421.5 L180.6,425.4 L176.8,428.3 L170.9,431.2 L163.2,434.1 L157.4,437.0 L153.5,440.9 L149.6,445.7 L144.8,450.6 L140.9,456.4 L141.9,461.2 L143.8,465.1 L139.0,469.0 L135.1,472.9 L132.2,477.7 L128.3,480.6 L122.5,482.5 L116.7,484.5 L110.9,485.4 L103.1,485.4 L95.4,486.4 L87.6,487.4 L81.8,489.3 L76.0,490.3 L72.1,491.3 L68.2,488.4 L66.3,483.5 L65.3,477.7 L63.4,472.9 L57.6,470.9 L55.7,468.0 L58.6,463.2 L61.5,458.3 L60.5,452.5 L63.4,448.6 L62.4,442.8 L65.3,438.0 L69.2,433.1 L72.1,427.3 L74.1,422.5 L77.9,418.6 L80.8,414.7 L78.9,411.8 L74.1,410.9 L68.2,409.9 L63.4,407.0 L60.5,404.1 L57.6,402.1 L59.5,398.2 L56.6,394.4Z" fill="#182144" />
<path d="M170.9,455.4 L175.8,452.5 L180.6,454.4 L181.6,458.3 L177.7,460.2 L173.8,458.3Z" fill="#182144" />
<path d="M185.5,452.1 L190.3,452.5 L191.3,456.0 L188.4,454.4Z" fill="#182144" />
<path d="M155.8,464.1 L159.3,462.6 L160.9,464.1 L157.4,465.7Z" fill="#182144" />
<path d="M317.5,325.5 L315.6,328.8 L318.0,332.5 L322.5,335.6 L326.9,338.8 L331.2,340.0 L336.2,339.4 L341.2,340.6 L346.2,343.0 L349.4,346.2 L353.8,347.5 L358.8,346.9 L361.9,346.9 L361.2,343.0 L362.5,338.8 L366.2,335.6 L370.0,333.8 L375.0,333.8 L380.0,335.0 L385.0,336.9 L390.0,338.8 L395.0,340.0 L398.7,338.8 L398.7,325.5Z" fill="#182144" />
<rect x="88.05" y="430.20" width="40.30" height="19.40" fill="#1eb0f5"/><text x="108.20" y="444.80" text-anchor="middle" font-size="14" fill="#a8e9ff">Spain</text>
<text x="235" y="421.3" class="t" fill="#3c3c3c" stroke="#fff" stroke-width="0.3" paint-order="fill stroke">Spain</text>
<text x="235" y="430.1" class="s" fill="#959595">Change font icons, no lose animation</text>
<text x="236.0" y="443.70" class="p" fill="#8a8a8a">Donec vitae dolor sed urna laoreet consectetur</text>
<text x="236.0" y="449.50" class="p" fill="#8a8a8a">et a odio. Cras vestibulum diam id risus</text>
<text x="236.0" y="455.30" class="p" fill="#8a8a8a">convallis maximus. Lorem ipsum dolor sit amet,</text>
<text x="236.0" y="461.10" class="p" fill="#8a8a8a">consectetur adipiscing elit.</text>
<circle cx="13.6" cy="538.8" r="4.5" fill="none" stroke="#b2b2b2" stroke-width="0.95"/><text x="13.6" y="540.7" text-anchor="middle" font-size="6.4" fill="#b2b2b2">‹</text><circle cx="26.1" cy="538.8" r="4.5" fill="none" stroke="#b2b2b2" stroke-width="0.95"/><text x="26.1" y="540.2" text-anchor="middle" font-size="3.9" fill="#b2b2b2">8</text><circle cx="38.6" cy="538.8" r="4.5" fill="none" stroke="#b2b2b2" stroke-width="0.95"/><text x="38.6" y="540.7" text-anchor="middle" font-size="6.4" fill="#b2b2b2">›</text><circle cx="363.2" cy="538.5" r="4.5" fill="none" stroke="#c4c0c8" stroke-width="0.9"/><path d="M364.10,536.20h-0.8q-0.9,0-0.9,1v0.8h-0.7v1h0.7v2.4h1.1v-2.4h0.9l0.15,-1h-1.05v-0.6q0,-0.35 0.4,-0.35h0.7z" fill="#3a3a3a"/><circle cx="375.8" cy="538.5" r="4.5" fill="none" stroke="#c4c0c8" stroke-width="0.9"/><path d="M373.70,537.80h0.9v2.8h-0.9zM374.15,536.40a0.55,0.55 0 1 0 0.01,0zM375.20,537.80h0.85v0.4q0.35,-0.5 1,-0.5q1.05,0 1.05,1.3v1.6h-0.9v-1.45q0,-0.65 -0.5,-0.65q-0.6,0 -0.6,0.75v1.35h-0.9z" fill="#3a3a3a"/><circle cx="388.4" cy="538.5" r="4.5" fill="none" stroke="#c4c0c8" stroke-width="0.9"/><path d="M390.80,537.00q-0.3,0.15 -0.6,0.18q0.35,-0.2 0.47,-0.57q-0.32,0.18 -0.67,0.25a1.05,1.05 0 0 0 -1.8,0.96q-1.3,-0.07 -2.15,-1.1a1.05,1.05 0 0 0 0.32,1.4q-0.25,0 -0.47,-0.13q0,0.77 0.84,1.04q-0.23,0.06 -0.47,0.02q0.2,0.6 0.98,0.73q-0.7,0.52 -1.55,0.43q2.1,1.15 3.7,-0.35q1,-1 0.97,-2.3q0.3,-0.22 0.43,-0.56z" fill="#3a3a3a"/><text x="353.2" y="539.3" text-anchor="end" class="f" fill="#777" textLength="71.5" lengthAdjust="spacingAndGlyphs">Hi0009 | presentation to DesignBall team</text>
</g>
<g clip-path="url(#c00)">
<rect x="4.0" y="-124.0" width="394.6" height="222.0" fill="#182144"/>
<path d="M236.0,0.0 L240.0,30.0 L250.0,40.0 L266.0,44.0 L278.0,38.5 L282.5,43.8 L287.8,46.4 L290.4,41.0 L291.2,35.9 L297.4,32.4 L301.8,30.6 L304.4,24.5 L305.2,17.5 L307.0,11.4 L310.5,9.6 L314.0,14.0 L319.2,13.0 L321.9,8.8 L325.4,6.0 L327.0,10.5 L333.2,14.9 L338.5,19.2 L343.8,22.8 L350.8,25.4 L357.8,24.5 L362.0,20.0 L363.0,14.9 L358.6,11.4 L352.5,8.8 L349.0,5.2 L352.5,0.0Z" fill="#3a8df6" />
<path d="M283.4,6.0 L300.0,5.2 L304.4,10.5 L305.2,17.5 L304.4,24.5 L301.8,30.6 L297.4,32.4 L291.2,35.9 L290.4,41.0 L287.8,46.4 L284.2,42.0 L282.5,35.0 L286.0,26.2 L282.5,17.5 L284.2,10.5Z" fill="#3475e8" stroke="#9cc4fb" stroke-width="0.4"/>
<path d="M272,0 L274,8 L281,12 L284,10 M274,8 L270,20 L276,30 L282.5,35 M300,5 L312,4 L318,0 M327,10.5 L330,4 L336,0 M338,19 L346,14 L352.5,8.75" fill="none" stroke="#9cc4fb" stroke-width="0.4"/>
<path d="M224.0,0.0 L225.0,7.0 L220.5,12.3 L212.0,17.0 L203.0,12.0 L200.0,33.0 L206.0,33.0 L210.0,34.1 L217.0,35.0 L222.3,30.6 L227.5,26.3 L232.8,22.8 L237.1,18.4 L243.3,12.3 L252.0,7.0 L262.5,1.8 L266.0,0.0Z" fill="#fff" />
<line x1="213" y1="20" x2="236" y2="24" stroke="#e88a5a" stroke-width="0.4"/>
<circle cx="186.5" cy="21" r="28" fill="#3478e8" fill-opacity="0.9"/>
<circle cx="224.5" cy="31.8" r="0.5" fill="#f2c9d8"/>
<circle cx="229.5" cy="31.8" r="0.5" fill="#f2c9d8"/>
<circle cx="234" cy="31.8" r="0.5" fill="#f2c9d8"/>
<circle cx="258" cy="26.2" r="21.9" fill="#269bf0" fill-opacity="0.96"/>
<circle cx="212.6" cy="19.8" r="3.6" fill="#16205a"/>
<circle cx="234.5" cy="0" r="3.6" fill="#16205a"/>
<circle cx="257" cy="5.2" r="3.6" fill="#16205a"/>
<text x="186.5" y="21.5" text-anchor="middle" font-size="9.3" fill="#c4d8fc">$26b</text>
<text x="186.5" y="28" text-anchor="middle" font-size="4" fill="#c4d8fc">First Investment</text>
<text x="258.5" y="27" text-anchor="middle" font-size="9.3" fill="#b4e0fc">$16b</text>
<text x="258.5" y="33.5" text-anchor="middle" font-size="4" fill="#b4e0fc">Third Investment</text>
<text x="92" y="5.8" class="p" fill="#d5d9e6">diam.</text>
<circle cx="13.6" cy="89.3" r="4.5" fill="none" stroke="#9aa2bd" stroke-width="0.95"/><text x="13.6" y="91.2" text-anchor="middle" font-size="6.4" fill="#9aa2bd">‹</text><circle cx="26.1" cy="89.3" r="4.5" fill="none" stroke="#9aa2bd" stroke-width="0.95"/><text x="26.1" y="90.7" text-anchor="middle" font-size="3.9" fill="#9aa2bd">4</text><circle cx="38.6" cy="89.3" r="4.5" fill="none" stroke="#9aa2bd" stroke-width="0.95"/><text x="38.6" y="91.2" text-anchor="middle" font-size="6.4" fill="#9aa2bd">›</text><circle cx="363.2" cy="89.0" r="4.5" fill="none" stroke="#8f97b5" stroke-width="0.9"/><path d="M364.10,86.70h-0.8q-0.9,0-0.9,1v0.8h-0.7v1h0.7v2.4h1.1v-2.4h0.9l0.15,-1h-1.05v-0.6q0,-0.35 0.4,-0.35h0.7z" fill="#dfe3ee"/><circle cx="375.8" cy="89.0" r="4.5" fill="none" stroke="#8f97b5" stroke-width="0.9"/><path d="M373.70,88.30h0.9v2.8h-0.9zM374.15,86.90a0.55,0.55 0 1 0 0.01,0zM375.20,88.30h0.85v0.4q0.35,-0.5 1,-0.5q1.05,0 1.05,1.3v1.6h-0.9v-1.45q0,-0.65 -0.5,-0.65q-0.6,0 -0.6,0.75v1.35h-0.9z" fill="#dfe3ee"/><circle cx="388.4" cy="89.0" r="4.5" fill="none" stroke="#8f97b5" stroke-width="0.9"/><path d="M390.80,87.50q-0.3,0.15 -0.6,0.18q0.35,-0.2 0.47,-0.57q-0.32,0.18 -0.67,0.25a1.05,1.05 0 0 0 -1.8,0.96q-1.3,-0.07 -2.15,-1.1a1.05,1.05 0 0 0 0.32,1.4q-0.25,0 -0.47,-0.13q0,0.77 0.84,1.04q-0.23,0.06 -0.47,0.02q0.2,0.6 0.98,0.73q-0.7,0.52 -1.55,0.43q2.1,1.15 3.7,-0.35q1,-1 0.97,-2.3q0.3,-0.22 0.43,-0.56z" fill="#dfe3ee"/><text x="353.2" y="89.8" text-anchor="end" class="f" fill="#c9cfe0" textLength="71.5" lengthAdjust="spacingAndGlyphs">Hi0009 | presentation to DesignBall team</text>
</g>
<g clip-path="url(#c41)">
<rect x="401.3" y="775.5" width="394.6" height="222.0" fill="#182144"/>
<path d="M712.0,775.5 L713.0,778.0 L716.0,780.0 L720.0,782.0 L724.0,784.5 L728.0,786.0 L733.0,788.0 L738.0,790.0 L743.0,792.0 L748.0,794.0 L753.0,796.0 L757.0,794.0 L759.0,790.0 L763.0,787.0 L768.0,786.0 L774.0,788.0 L780.0,790.0 L786.0,792.0 L792.0,791.0 L796.0,789.0 L796.0,775.5Z" fill="#fff" />
</g>
</svg></body></html>
